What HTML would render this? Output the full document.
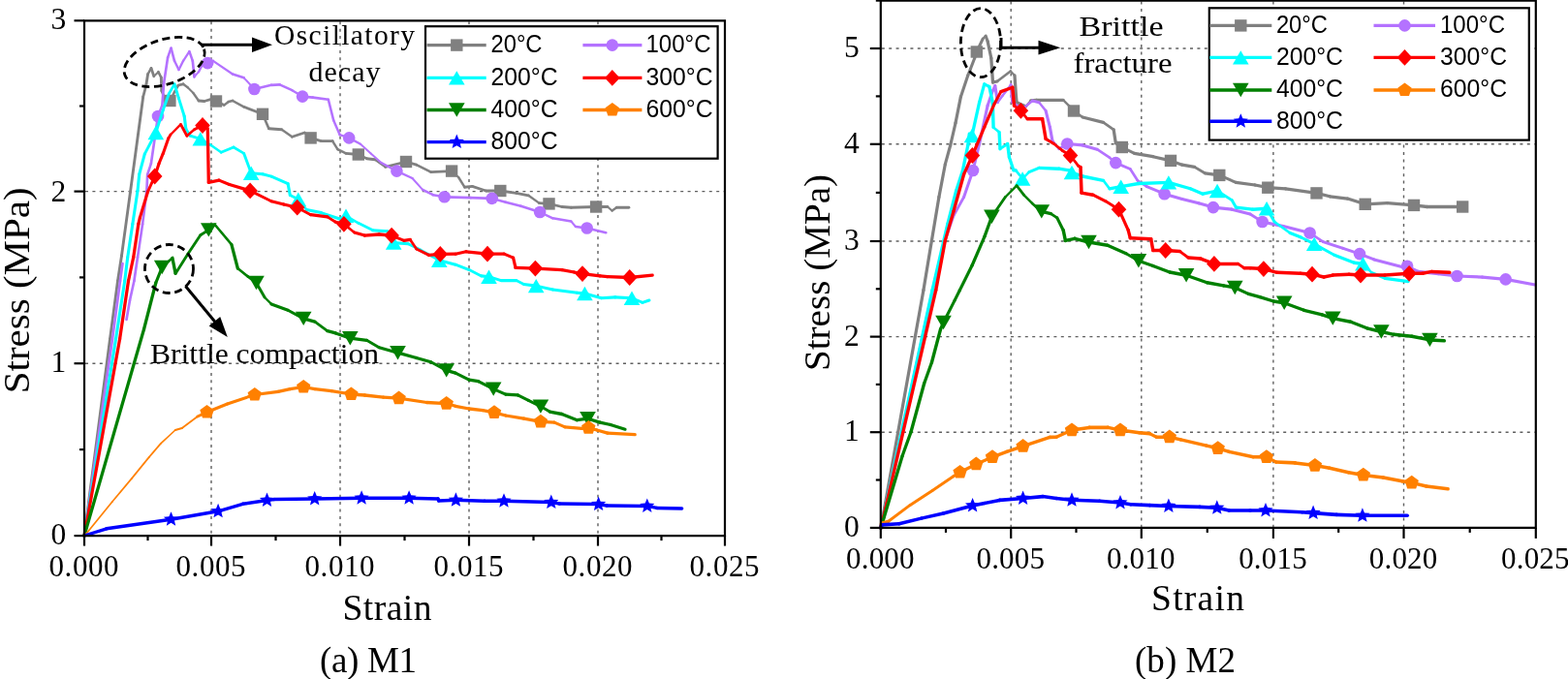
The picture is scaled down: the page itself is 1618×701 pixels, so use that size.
<!DOCTYPE html>
<html><head><meta charset="utf-8"><title>Stress-strain curves</title>
<style>html,body{margin:0;padding:0;background:#fff;overflow:hidden}svg{display:block}</style>
</head><body>
<svg width="1618" height="701" viewBox="0 0 1618 701">
<rect width="1618" height="701" fill="#fff"/>
<g stroke="#606060" stroke-width="1.4" stroke-dasharray="3 4.4" fill="none">
<line x1="218" y1="22.3" x2="218" y2="552.1"/>
<line x1="351" y1="22.3" x2="351" y2="552.1"/>
<line x1="484" y1="22.3" x2="484" y2="552.1"/>
<line x1="617" y1="22.3" x2="617" y2="552.1"/>
<line x1="88" y1="375.2" x2="747" y2="375.2"/>
<line x1="88" y1="197.6" x2="747" y2="197.6"/>
</g>
<g fill="none" stroke="#808080" stroke-linecap="round">
<line x1="87" y1="553" x2="113.5" y2="350" stroke-width="2.88"/>
<line x1="113.5" y1="350" x2="121.5" y2="290" stroke-width="2.87"/>
<line x1="121.5" y1="290" x2="125.5" y2="264" stroke-width="2.87"/>
<line x1="125.5" y1="264" x2="134.5" y2="198" stroke-width="2.87"/>
<line x1="134.5" y1="198" x2="147.7" y2="100" stroke-width="2.87"/>
<line x1="147.7" y1="100" x2="150.8" y2="88" stroke-width="2.81"/>
<line x1="150.8" y1="88" x2="152.6" y2="76.5" stroke-width="2.87"/>
<line x1="152.6" y1="76.5" x2="156" y2="70.3" stroke-width="2.54"/>
<line x1="156" y1="70.3" x2="158.8" y2="78.8" stroke-width="2.75"/>
<line x1="158.8" y1="78.8" x2="163.4" y2="74.2" stroke-width="2.05"/>
<line x1="163.4" y1="74.2" x2="166.3" y2="80" stroke-width="2.59"/>
<line x1="166.3" y1="80" x2="166.8" y2="93.7" stroke-width="2.9"/>
<line x1="166.8" y1="93.7" x2="171" y2="104" stroke-width="2.69"/>
<line x1="171" y1="104" x2="175.4" y2="104" stroke-width="2.9"/>
<line x1="175.4" y1="104" x2="180" y2="95" stroke-width="2.58"/>
<line x1="180" y1="95" x2="184" y2="88" stroke-width="2.52"/>
<line x1="184" y1="88" x2="189" y2="86.8" stroke-width="2.82"/>
<line x1="189" y1="86.8" x2="193.7" y2="90.2" stroke-width="2.35"/>
<line x1="193.7" y1="90.2" x2="199.4" y2="96" stroke-width="2.07"/>
<line x1="199.4" y1="96" x2="205" y2="104" stroke-width="2.38"/>
<line x1="205" y1="104" x2="210.8" y2="104.5" stroke-width="2.89"/>
<line x1="210.8" y1="104.5" x2="218.8" y2="102.2" stroke-width="2.79"/>
<line x1="218.8" y1="102.2" x2="223" y2="104.5" stroke-width="2.54"/>
<line x1="223" y1="104.5" x2="231.3" y2="108.5" stroke-width="2.61"/>
<line x1="231.3" y1="108.5" x2="235.9" y2="105" stroke-width="2.31"/>
<line x1="235.9" y1="105" x2="240" y2="104" stroke-width="2.82"/>
<line x1="240" y1="104" x2="251.7" y2="110.3" stroke-width="2.55"/>
<line x1="251.7" y1="110.3" x2="271" y2="117.8" stroke-width="2.7"/>
<line x1="271" y1="117.8" x2="277.4" y2="132.7" stroke-width="2.66"/>
<line x1="277.4" y1="132.7" x2="290.7" y2="133.8" stroke-width="2.89"/>
<line x1="290.7" y1="133.8" x2="301.4" y2="141.3" stroke-width="2.37"/>
<line x1="301.4" y1="141.3" x2="314.2" y2="137" stroke-width="2.75"/>
<line x1="314.2" y1="137" x2="320.6" y2="142.4" stroke-width="2.22"/>
<line x1="320.6" y1="142.4" x2="331.3" y2="145.6" stroke-width="2.78"/>
<line x1="331.3" y1="145.6" x2="343.1" y2="145.6" stroke-width="2.9"/>
<line x1="343.1" y1="145.6" x2="348.4" y2="154.1" stroke-width="2.46"/>
<line x1="348.4" y1="154.1" x2="357" y2="158.4" stroke-width="2.59"/>
<line x1="357" y1="158.4" x2="369.8" y2="159.5" stroke-width="2.89"/>
<line x1="369.8" y1="159.5" x2="378.4" y2="163.7" stroke-width="2.61"/>
<line x1="378.4" y1="163.7" x2="387" y2="164.8" stroke-width="2.88"/>
<line x1="387" y1="164.8" x2="397.6" y2="172.3" stroke-width="2.37"/>
<line x1="397.6" y1="172.3" x2="419" y2="167" stroke-width="2.81"/>
<line x1="419" y1="167" x2="429.7" y2="170.2" stroke-width="2.78"/>
<line x1="429.7" y1="170.2" x2="444.7" y2="177.6" stroke-width="2.6"/>
<line x1="444.7" y1="177.6" x2="466.1" y2="176.6" stroke-width="2.9"/>
<line x1="466.1" y1="176.6" x2="473.1" y2="183" stroke-width="2.14"/>
<line x1="473.1" y1="183" x2="479.4" y2="193.2" stroke-width="2.47"/>
<line x1="479.4" y1="193.2" x2="487.3" y2="192.4" stroke-width="2.89"/>
<line x1="487.3" y1="192.4" x2="501.4" y2="197" stroke-width="2.76"/>
<line x1="501.4" y1="197" x2="516.3" y2="197" stroke-width="2.9"/>
<line x1="516.3" y1="197" x2="532.8" y2="199.4" stroke-width="2.87"/>
<line x1="532.8" y1="199.4" x2="545.3" y2="201.8" stroke-width="2.85"/>
<line x1="545.3" y1="201.8" x2="556.3" y2="209.6" stroke-width="2.37"/>
<line x1="556.3" y1="209.6" x2="566.5" y2="210.4" stroke-width="2.89"/>
<line x1="566.5" y1="210.4" x2="579.8" y2="213.5" stroke-width="2.82"/>
<line x1="579.8" y1="213.5" x2="589.3" y2="214.3" stroke-width="2.89"/>
<line x1="589.3" y1="214.3" x2="615.1" y2="213.5" stroke-width="2.9"/>
<line x1="615.1" y1="213.5" x2="626.9" y2="213.5" stroke-width="2.9"/>
<line x1="626.9" y1="213.5" x2="631.6" y2="217.5" stroke-width="2.21"/>
<line x1="631.6" y1="217.5" x2="636.3" y2="214.3" stroke-width="2.4"/>
<line x1="636.3" y1="214.3" x2="648.9" y2="214.3" stroke-width="2.9"/>
</g>
<g fill="#808080">
<rect x="169.2" y="97.8" width="12.4" height="12.4"/>
<rect x="216.8" y="98.3" width="12.4" height="12.4"/>
<rect x="264.8" y="111.6" width="12.4" height="12.4"/>
<rect x="314.4" y="136.2" width="12.4" height="12.4"/>
<rect x="363.6" y="153.3" width="12.4" height="12.4"/>
<rect x="412.8" y="160.8" width="12.4" height="12.4"/>
<rect x="459.9" y="170.4" width="12.4" height="12.4"/>
<rect x="510.1" y="190.8" width="12.4" height="12.4"/>
<rect x="560.3" y="204.2" width="12.4" height="12.4"/>
<rect x="608.9" y="207.3" width="12.4" height="12.4"/>
</g>
<g fill="none" stroke="#B472FF" stroke-linecap="round">
<line x1="87" y1="553" x2="116" y2="350" stroke-width="2.67"/>
<line x1="116" y1="350" x2="124" y2="290" stroke-width="2.68"/>
<line x1="124" y1="290" x2="126.5" y2="272" stroke-width="2.67"/>
<line x1="130.5" y1="330" x2="134" y2="310" stroke-width="2.66"/>
<line x1="134" y1="310" x2="138.4" y2="290" stroke-width="2.64"/>
<line x1="138.4" y1="290" x2="142" y2="265.7" stroke-width="2.67"/>
<line x1="142" y1="265.7" x2="147.1" y2="231.4" stroke-width="2.67"/>
<line x1="147.1" y1="231.4" x2="151.4" y2="197" stroke-width="2.68"/>
<line x1="151.4" y1="197" x2="152.2" y2="180" stroke-width="2.7"/>
<line x1="152.2" y1="180" x2="155.9" y2="168.9" stroke-width="2.56"/>
<line x1="155.9" y1="168.9" x2="163" y2="120" stroke-width="2.67"/>
<line x1="163" y1="120" x2="167.4" y2="108.5" stroke-width="2.52"/>
<line x1="167.4" y1="108.5" x2="169.1" y2="85.7" stroke-width="2.69"/>
<line x1="169.1" y1="85.7" x2="173.1" y2="59.4" stroke-width="2.67"/>
<line x1="173.1" y1="59.4" x2="176.5" y2="49.7" stroke-width="2.55"/>
<line x1="176.5" y1="49.7" x2="180" y2="62.8" stroke-width="2.61"/>
<line x1="180" y1="62.8" x2="184.5" y2="72" stroke-width="2.43"/>
<line x1="184.5" y1="72" x2="189.1" y2="62.8" stroke-width="2.41"/>
<line x1="189.1" y1="62.8" x2="195.4" y2="53.1" stroke-width="2.26"/>
<line x1="195.4" y1="53.1" x2="198.8" y2="62.8" stroke-width="2.55"/>
<line x1="198.8" y1="62.8" x2="200.5" y2="79.4" stroke-width="2.69"/>
<line x1="200.5" y1="79.4" x2="205" y2="74.2" stroke-width="2.04"/>
<line x1="205" y1="74.2" x2="208.5" y2="67.4" stroke-width="2.4"/>
<line x1="208.5" y1="67.4" x2="214.2" y2="65.1" stroke-width="2.5"/>
<line x1="214.2" y1="65.1" x2="219.9" y2="62.8" stroke-width="2.5"/>
<line x1="219.9" y1="62.8" x2="240" y2="76.5" stroke-width="2.23"/>
<line x1="240" y1="76.5" x2="251.7" y2="80.3" stroke-width="2.57"/>
<line x1="251.7" y1="80.3" x2="262.4" y2="92" stroke-width="1.99"/>
<line x1="262.4" y1="92" x2="280" y2="87.8" stroke-width="2.63"/>
<line x1="280" y1="87.8" x2="288.6" y2="87.4" stroke-width="2.7"/>
<line x1="288.6" y1="87.4" x2="301.4" y2="93.2" stroke-width="2.46"/>
<line x1="301.4" y1="93.2" x2="312.1" y2="99.6" stroke-width="2.32"/>
<line x1="312.1" y1="99.6" x2="322.8" y2="100.6" stroke-width="2.69"/>
<line x1="322.8" y1="100.6" x2="338.8" y2="102.8" stroke-width="2.67"/>
<line x1="338.8" y1="102.8" x2="344.2" y2="124.2" stroke-width="2.62"/>
<line x1="344.2" y1="124.2" x2="350.6" y2="139.1" stroke-width="2.48"/>
<line x1="350.6" y1="139.1" x2="360.2" y2="142.4" stroke-width="2.55"/>
<line x1="360.2" y1="142.4" x2="372" y2="148.8" stroke-width="2.37"/>
<line x1="372" y1="148.8" x2="382.7" y2="158.4" stroke-width="2.01"/>
<line x1="382.7" y1="158.4" x2="393.4" y2="168" stroke-width="2.01"/>
<line x1="393.4" y1="168" x2="409.4" y2="176.6" stroke-width="2.38"/>
<line x1="409.4" y1="176.6" x2="425.5" y2="184" stroke-width="2.45"/>
<line x1="425.5" y1="184" x2="436.1" y2="195.8" stroke-width="2.01"/>
<line x1="436.1" y1="195.8" x2="446.8" y2="201.2" stroke-width="2.41"/>
<line x1="446.8" y1="201.2" x2="458.6" y2="203.3" stroke-width="2.66"/>
<line x1="458.6" y1="203.3" x2="485.7" y2="204.1" stroke-width="2.7"/>
<line x1="485.7" y1="204.1" x2="507.7" y2="204.9" stroke-width="2.7"/>
<line x1="507.7" y1="204.9" x2="521.8" y2="208.8" stroke-width="2.6"/>
<line x1="521.8" y1="208.8" x2="537.5" y2="212.8" stroke-width="2.62"/>
<line x1="537.5" y1="212.8" x2="557.1" y2="219" stroke-width="2.57"/>
<line x1="557.1" y1="219" x2="570.4" y2="225.3" stroke-width="2.44"/>
<line x1="570.4" y1="225.3" x2="589.3" y2="228.5" stroke-width="2.66"/>
<line x1="589.3" y1="228.5" x2="594" y2="234" stroke-width="2.05"/>
<line x1="594" y1="234" x2="605.7" y2="235.5" stroke-width="2.68"/>
<line x1="605.7" y1="235.5" x2="625.3" y2="240.2" stroke-width="2.63"/>
</g>
<g fill="#B472FF">
<circle cx="163" cy="120" r="6.3"/>
<circle cx="214.2" cy="65.1" r="6.3"/>
<circle cx="262.4" cy="92" r="6.3"/>
<circle cx="312.1" cy="99.6" r="6.3"/>
<circle cx="360.2" cy="142.4" r="6.3"/>
<circle cx="409.4" cy="176.6" r="6.3"/>
<circle cx="458.6" cy="203.3" r="6.3"/>
<circle cx="507.7" cy="204.9" r="6.3"/>
<circle cx="557.1" cy="219" r="6.3"/>
<circle cx="605.7" cy="235.5" r="6.3"/>
</g>
<g fill="none" stroke="#00FFFF" stroke-linecap="round">
<line x1="87" y1="553" x2="119.5" y2="350" stroke-width="3.06"/>
<line x1="119.5" y1="350" x2="128.7" y2="290" stroke-width="3.06"/>
<line x1="128.7" y1="290" x2="131.7" y2="265.7" stroke-width="3.08"/>
<line x1="131.7" y1="265.7" x2="136.8" y2="231.4" stroke-width="3.07"/>
<line x1="136.8" y1="231.4" x2="142" y2="197" stroke-width="3.07"/>
<line x1="142" y1="197" x2="143.7" y2="180" stroke-width="3.08"/>
<line x1="143.7" y1="180" x2="149.3" y2="159" stroke-width="3"/>
<line x1="149.3" y1="159" x2="160.8" y2="137" stroke-width="2.75"/>
<line x1="160.8" y1="137" x2="168.3" y2="113.5" stroke-width="2.95"/>
<line x1="168.3" y1="113.5" x2="174.2" y2="97" stroke-width="2.92"/>
<line x1="174.2" y1="97" x2="180" y2="86.8" stroke-width="2.69"/>
<line x1="180" y1="86.8" x2="184.5" y2="101.6" stroke-width="2.97"/>
<line x1="184.5" y1="101.6" x2="190.2" y2="120" stroke-width="2.96"/>
<line x1="190.2" y1="120" x2="191.8" y2="132.7" stroke-width="3.08"/>
<line x1="191.8" y1="132.7" x2="196.1" y2="140.2" stroke-width="2.69"/>
<line x1="196.1" y1="140.2" x2="206.8" y2="143.4" stroke-width="2.97"/>
<line x1="206.8" y1="143.4" x2="217.5" y2="149.8" stroke-width="2.66"/>
<line x1="217.5" y1="149.8" x2="228.2" y2="157.3" stroke-width="2.54"/>
<line x1="228.2" y1="157.3" x2="241" y2="152" stroke-width="2.86"/>
<line x1="241" y1="152" x2="251.7" y2="158.4" stroke-width="2.66"/>
<line x1="251.7" y1="158.4" x2="259.2" y2="178.7" stroke-width="2.91"/>
<line x1="259.2" y1="178.7" x2="271" y2="179.8" stroke-width="3.09"/>
<line x1="271" y1="179.8" x2="280" y2="182.1" stroke-width="3"/>
<line x1="280" y1="182.1" x2="297.1" y2="189.6" stroke-width="2.84"/>
<line x1="297.1" y1="189.6" x2="299.3" y2="201.4" stroke-width="3.05"/>
<line x1="299.3" y1="201.4" x2="307.8" y2="205.7" stroke-width="2.77"/>
<line x1="307.8" y1="205.7" x2="316.4" y2="216.4" stroke-width="2.42"/>
<line x1="316.4" y1="216.4" x2="331.3" y2="219.6" stroke-width="3.03"/>
<line x1="331.3" y1="219.6" x2="350.6" y2="226" stroke-width="2.94"/>
<line x1="350.6" y1="226" x2="357" y2="222.8" stroke-width="2.77"/>
<line x1="357" y1="222.8" x2="369.8" y2="230.3" stroke-width="2.67"/>
<line x1="369.8" y1="230.3" x2="384.8" y2="237.8" stroke-width="2.77"/>
<line x1="384.8" y1="237.8" x2="399.8" y2="238.8" stroke-width="3.09"/>
<line x1="399.8" y1="238.8" x2="406.2" y2="250.6" stroke-width="2.72"/>
<line x1="406.2" y1="250.6" x2="421.2" y2="251.7" stroke-width="3.09"/>
<line x1="421.2" y1="251.7" x2="434" y2="258.1" stroke-width="2.77"/>
<line x1="434" y1="258.1" x2="453.3" y2="268.8" stroke-width="2.71"/>
<line x1="453.3" y1="268.8" x2="470" y2="273.2" stroke-width="3"/>
<line x1="470" y1="273.2" x2="484.1" y2="278.6" stroke-width="2.89"/>
<line x1="484.1" y1="278.6" x2="496.7" y2="284.9" stroke-width="2.77"/>
<line x1="496.7" y1="284.9" x2="504.5" y2="285.7" stroke-width="3.08"/>
<line x1="504.5" y1="285.7" x2="517.1" y2="289.6" stroke-width="2.96"/>
<line x1="517.1" y1="289.6" x2="532.8" y2="289.6" stroke-width="3.1"/>
<line x1="532.8" y1="289.6" x2="540.6" y2="293.5" stroke-width="2.77"/>
<line x1="540.6" y1="293.5" x2="553.2" y2="295.1" stroke-width="3.08"/>
<line x1="553.2" y1="295.1" x2="570.4" y2="299" stroke-width="3.02"/>
<line x1="570.4" y1="299" x2="595.5" y2="302.2" stroke-width="3.08"/>
<line x1="595.5" y1="302.2" x2="603.4" y2="303" stroke-width="3.08"/>
<line x1="603.4" y1="303" x2="620.6" y2="307.7" stroke-width="2.99"/>
<line x1="620.6" y1="307.7" x2="634.8" y2="306.9" stroke-width="3.1"/>
<line x1="634.8" y1="306.9" x2="652" y2="307.7" stroke-width="3.1"/>
<line x1="652" y1="307.7" x2="663" y2="312.4" stroke-width="2.85"/>
<line x1="663" y1="312.4" x2="670" y2="310" stroke-width="2.93"/>
</g>
<g fill="#00FFFF">
<polygon points="160.8,129.8 169.1,144.2 152.5,144.2"/>
<polygon points="206.8,136.2 215.1,150.6 198.5,150.6"/>
<polygon points="259.2,171.5 267.5,185.9 250.9,185.9"/>
<polygon points="307.8,198.5 316.1,212.9 299.5,212.9"/>
<polygon points="357,215.6 365.3,230 348.7,230"/>
<polygon points="406.2,243.4 414.5,257.8 397.9,257.8"/>
<polygon points="453.3,261.6 461.6,276 445,276"/>
<polygon points="504.5,278.5 512.8,292.9 496.2,292.9"/>
<polygon points="553.2,287.9 561.5,302.3 544.9,302.3"/>
<polygon points="603.4,295.8 611.7,310.2 595.1,310.2"/>
<polygon points="652,300.5 660.3,314.9 643.7,314.9"/>
</g>
<g fill="none" stroke="#FF0000" stroke-linecap="round">
<line x1="87" y1="553" x2="123.6" y2="350" stroke-width="3.25"/>
<line x1="123.6" y1="350" x2="132.5" y2="290" stroke-width="3.26"/>
<line x1="132.5" y1="290" x2="137.7" y2="265.7" stroke-width="3.23"/>
<line x1="137.7" y1="265.7" x2="142.8" y2="231.4" stroke-width="3.26"/>
<line x1="142.8" y1="231.4" x2="144.4" y2="224.6" stroke-width="3.21"/>
<line x1="144.4" y1="224.6" x2="152.5" y2="198" stroke-width="3.16"/>
<line x1="152.5" y1="198" x2="159.7" y2="182" stroke-width="3.01"/>
<line x1="159.7" y1="182" x2="164" y2="168.9" stroke-width="3.14"/>
<line x1="164" y1="168.9" x2="168.3" y2="158.4" stroke-width="3.05"/>
<line x1="168.3" y1="158.4" x2="173.9" y2="142.6" stroke-width="3.11"/>
<line x1="173.9" y1="142.6" x2="176" y2="139" stroke-width="2.85"/>
<line x1="176" y1="139" x2="186.5" y2="128.4" stroke-width="2.34"/>
<line x1="186.5" y1="128.4" x2="192.9" y2="140.2" stroke-width="2.9"/>
<line x1="192.9" y1="140.2" x2="200.4" y2="133.8" stroke-width="2.51"/>
<line x1="200.4" y1="133.8" x2="209" y2="129.5" stroke-width="2.95"/>
<line x1="209" y1="129.5" x2="214.3" y2="132.7" stroke-width="2.83"/>
<line x1="214.3" y1="132.7" x2="215.3" y2="188.3" stroke-width="3.3"/>
<line x1="215.3" y1="188.3" x2="226" y2="186.2" stroke-width="3.24"/>
<line x1="226" y1="186.2" x2="236.7" y2="190.5" stroke-width="3.06"/>
<line x1="236.7" y1="190.5" x2="258.1" y2="196.9" stroke-width="3.16"/>
<line x1="258.1" y1="196.9" x2="280" y2="207.8" stroke-width="2.95"/>
<line x1="280" y1="207.8" x2="292.8" y2="211" stroke-width="3.2"/>
<line x1="292.8" y1="211" x2="306.7" y2="214.2" stroke-width="3.22"/>
<line x1="306.7" y1="214.2" x2="320.6" y2="221.7" stroke-width="2.9"/>
<line x1="320.6" y1="221.7" x2="337.8" y2="223.9" stroke-width="3.27"/>
<line x1="337.8" y1="223.9" x2="346.3" y2="229.2" stroke-width="2.8"/>
<line x1="346.3" y1="229.2" x2="354.9" y2="231.3" stroke-width="3.21"/>
<line x1="354.9" y1="231.3" x2="365.6" y2="239.9" stroke-width="2.57"/>
<line x1="365.6" y1="239.9" x2="376.3" y2="243.1" stroke-width="3.16"/>
<line x1="376.3" y1="243.1" x2="391.2" y2="242" stroke-width="3.29"/>
<line x1="391.2" y1="242" x2="404.1" y2="243.1" stroke-width="3.29"/>
<line x1="404.1" y1="243.1" x2="416.9" y2="248.4" stroke-width="3.05"/>
<line x1="416.9" y1="248.4" x2="423.3" y2="247.4" stroke-width="3.26"/>
<line x1="423.3" y1="247.4" x2="429.7" y2="257" stroke-width="2.75"/>
<line x1="429.7" y1="257" x2="442.6" y2="263.4" stroke-width="2.96"/>
<line x1="442.6" y1="263.4" x2="454.3" y2="262.4" stroke-width="3.29"/>
<line x1="454.3" y1="262.4" x2="470" y2="262.2" stroke-width="3.3"/>
<line x1="470" y1="262.2" x2="481" y2="259.8" stroke-width="3.22"/>
<line x1="481" y1="259.8" x2="503" y2="262.2" stroke-width="3.28"/>
<line x1="503" y1="262.2" x2="520.2" y2="262.2" stroke-width="3.3"/>
<line x1="520.2" y1="262.2" x2="529.6" y2="266.1" stroke-width="3.05"/>
<line x1="529.6" y1="266.1" x2="532" y2="276.3" stroke-width="3.21"/>
<line x1="532" y1="276.3" x2="552.4" y2="277.1" stroke-width="3.3"/>
<line x1="552.4" y1="277.1" x2="579.8" y2="278.6" stroke-width="3.3"/>
<line x1="579.8" y1="278.6" x2="592.4" y2="281" stroke-width="3.24"/>
<line x1="592.4" y1="281" x2="601" y2="282.6" stroke-width="3.24"/>
<line x1="601" y1="282.6" x2="619.1" y2="284.9" stroke-width="3.27"/>
<line x1="619.1" y1="284.9" x2="626.9" y2="285.7" stroke-width="3.28"/>
<line x1="626.9" y1="285.7" x2="649.7" y2="286.5" stroke-width="3.3"/>
<line x1="649.7" y1="286.5" x2="673.2" y2="284.1" stroke-width="3.28"/>
</g>
<g fill="#FF0000">
<polygon points="159.7,173.6 167.5,182 159.7,190.4 151.9,182"/>
<polygon points="209,121.1 216.8,129.5 209,137.9 201.2,129.5"/>
<polygon points="258.1,188.5 265.9,196.9 258.1,205.3 250.3,196.9"/>
<polygon points="306.7,205.8 314.5,214.2 306.7,222.6 298.9,214.2"/>
<polygon points="354.9,222.9 362.7,231.3 354.9,239.7 347.1,231.3"/>
<polygon points="404.1,234.7 411.9,243.1 404.1,251.5 396.3,243.1"/>
<polygon points="454.3,254 462.1,262.4 454.3,270.8 446.5,262.4"/>
<polygon points="503,253.8 510.8,262.2 503,270.6 495.2,262.2"/>
<polygon points="552.4,268.7 560.2,277.1 552.4,285.5 544.6,277.1"/>
<polygon points="601,274.2 608.8,282.6 601,291 593.2,282.6"/>
<polygon points="649.7,278.1 657.5,286.5 649.7,294.9 641.9,286.5"/>
</g>
<g fill="none" stroke="#008000" stroke-linecap="round">
<line x1="87" y1="553" x2="148.5" y2="340" stroke-width="3.27"/>
<line x1="148.5" y1="340" x2="160.8" y2="292" stroke-width="3.29"/>
<line x1="160.8" y1="292" x2="167.2" y2="276" stroke-width="3.16"/>
<line x1="167.2" y1="276" x2="177.9" y2="266.3" stroke-width="2.52"/>
<line x1="177.9" y1="266.3" x2="181.1" y2="282.4" stroke-width="3.33"/>
<line x1="181.1" y1="282.4" x2="194" y2="262" stroke-width="2.87"/>
<line x1="194" y1="262" x2="206.8" y2="242.8" stroke-width="2.83"/>
<line x1="206.8" y1="242.8" x2="215.3" y2="237.4" stroke-width="2.87"/>
<line x1="215.3" y1="237.4" x2="221.8" y2="232" stroke-width="2.62"/>
<line x1="221.8" y1="232" x2="238.9" y2="252.4" stroke-width="2.61"/>
<line x1="238.9" y1="252.4" x2="245.3" y2="277" stroke-width="3.29"/>
<line x1="245.3" y1="277" x2="256" y2="285.6" stroke-width="2.65"/>
<line x1="256" y1="285.6" x2="264.5" y2="292" stroke-width="2.72"/>
<line x1="264.5" y1="292" x2="273.1" y2="307" stroke-width="2.95"/>
<line x1="273.1" y1="307" x2="280" y2="313.9" stroke-width="2.4"/>
<line x1="280" y1="313.9" x2="297.1" y2="320.3" stroke-width="3.18"/>
<line x1="297.1" y1="320.3" x2="313.2" y2="328.9" stroke-width="3"/>
<line x1="313.2" y1="328.9" x2="324.9" y2="332.1" stroke-width="3.28"/>
<line x1="324.9" y1="332.1" x2="337.8" y2="341.7" stroke-width="2.73"/>
<line x1="337.8" y1="341.7" x2="346.3" y2="343.9" stroke-width="3.29"/>
<line x1="346.3" y1="343.9" x2="361.3" y2="349.2" stroke-width="3.21"/>
<line x1="361.3" y1="349.2" x2="378.4" y2="351.3" stroke-width="3.37"/>
<line x1="378.4" y1="351.3" x2="391.2" y2="358.8" stroke-width="2.93"/>
<line x1="391.2" y1="358.8" x2="410.5" y2="364.2" stroke-width="3.27"/>
<line x1="410.5" y1="364.2" x2="429.7" y2="369.5" stroke-width="3.28"/>
<line x1="429.7" y1="369.5" x2="444.7" y2="373.8" stroke-width="3.27"/>
<line x1="444.7" y1="373.8" x2="460.7" y2="382.4" stroke-width="2.99"/>
<line x1="460.7" y1="382.4" x2="470" y2="385.1" stroke-width="3.27"/>
<line x1="470" y1="385.1" x2="484.1" y2="392.2" stroke-width="3.04"/>
<line x1="484.1" y1="392.2" x2="493.5" y2="393.7" stroke-width="3.36"/>
<line x1="493.5" y1="393.7" x2="509.2" y2="401.6" stroke-width="3.04"/>
<line x1="509.2" y1="401.6" x2="521.8" y2="407.1" stroke-width="3.12"/>
<line x1="521.8" y1="407.1" x2="534.3" y2="407.9" stroke-width="3.39"/>
<line x1="534.3" y1="407.9" x2="545.3" y2="413.4" stroke-width="3.04"/>
<line x1="545.3" y1="413.4" x2="557.9" y2="419.6" stroke-width="3.05"/>
<line x1="557.9" y1="419.6" x2="567.3" y2="425.1" stroke-width="2.93"/>
<line x1="567.3" y1="425.1" x2="579.8" y2="427.5" stroke-width="3.34"/>
<line x1="579.8" y1="427.5" x2="595.5" y2="433.7" stroke-width="3.16"/>
<line x1="595.5" y1="433.7" x2="606.5" y2="432.2" stroke-width="3.37"/>
<line x1="606.5" y1="432.2" x2="619.1" y2="436.1" stroke-width="3.25"/>
<line x1="619.1" y1="436.1" x2="630" y2="438.5" stroke-width="3.32"/>
<line x1="630" y1="438.5" x2="645" y2="443.2" stroke-width="3.24"/>
</g>
<g fill="#008000">
<polygon points="167.2,283.2 175.5,268.8 158.9,268.8"/>
<polygon points="215.3,244.6 223.6,230.2 207,230.2"/>
<polygon points="264.5,299.2 272.8,284.8 256.2,284.8"/>
<polygon points="313.2,336.1 321.5,321.7 304.9,321.7"/>
<polygon points="361.3,356.4 369.6,342 353,342"/>
<polygon points="410.5,371.4 418.8,357 402.2,357"/>
<polygon points="460.7,389.6 469,375.2 452.4,375.2"/>
<polygon points="509.2,408.8 517.5,394.4 500.9,394.4"/>
<polygon points="557.9,426.8 566.2,412.4 549.6,412.4"/>
<polygon points="606.5,439.4 614.8,425 598.2,425"/>
</g>
<g fill="none" stroke="#FF8000" stroke-linecap="round">
<line x1="87" y1="553" x2="90" y2="549.8" stroke-width="1.6"/>
<line x1="90" y1="549.8" x2="116" y2="517.8" stroke-width="1.71"/>
<line x1="116" y1="517.8" x2="136" y2="493.9" stroke-width="1.69"/>
<line x1="136" y1="493.9" x2="153.9" y2="471.9" stroke-width="1.71"/>
<line x1="153.9" y1="471.9" x2="165.9" y2="457.9" stroke-width="1.67"/>
<line x1="165.9" y1="457.9" x2="180.9" y2="444" stroke-width="1.61"/>
<line x1="180.9" y1="444" x2="187.8" y2="442" stroke-width="2.11"/>
<line x1="187.8" y1="442" x2="203.8" y2="430" stroke-width="1.76"/>
<line x1="203.8" y1="430" x2="213.5" y2="425.5" stroke-width="2.99"/>
<line x1="213.5" y1="425.5" x2="234.6" y2="417" stroke-width="3.06"/>
<line x1="234.6" y1="417" x2="262.8" y2="407.5" stroke-width="3.13"/>
<line x1="262.8" y1="407.5" x2="287" y2="404.4" stroke-width="3.27"/>
<line x1="287" y1="404.4" x2="299.3" y2="401.6" stroke-width="3.22"/>
<line x1="299.3" y1="401.6" x2="313.2" y2="399.5" stroke-width="3.26"/>
<line x1="313.2" y1="399.5" x2="324.9" y2="401.6" stroke-width="3.25"/>
<line x1="324.9" y1="401.6" x2="342" y2="403.7" stroke-width="3.28"/>
<line x1="342" y1="403.7" x2="362.4" y2="407" stroke-width="3.26"/>
<line x1="362.4" y1="407" x2="376.3" y2="408" stroke-width="3.29"/>
<line x1="376.3" y1="408" x2="395.5" y2="410.2" stroke-width="3.28"/>
<line x1="395.5" y1="410.2" x2="411.6" y2="411.2" stroke-width="3.29"/>
<line x1="411.6" y1="411.2" x2="440.4" y2="415.5" stroke-width="3.26"/>
<line x1="440.4" y1="415.5" x2="460.7" y2="416.6" stroke-width="3.3"/>
<line x1="460.7" y1="416.6" x2="470" y2="419.3" stroke-width="3.17"/>
<line x1="470" y1="419.3" x2="484.1" y2="422" stroke-width="3.24"/>
<line x1="484.1" y1="422" x2="498.2" y2="423.6" stroke-width="3.28"/>
<line x1="498.2" y1="423.6" x2="510" y2="425.9" stroke-width="3.24"/>
<line x1="510" y1="425.9" x2="521.8" y2="429" stroke-width="3.19"/>
<line x1="521.8" y1="429" x2="540.6" y2="432.2" stroke-width="3.25"/>
<line x1="540.6" y1="432.2" x2="557.9" y2="435.3" stroke-width="3.25"/>
<line x1="557.9" y1="435.3" x2="572" y2="436.1" stroke-width="3.29"/>
<line x1="572" y1="436.1" x2="583" y2="440.8" stroke-width="3.03"/>
<line x1="583" y1="440.8" x2="600.2" y2="442.4" stroke-width="3.29"/>
<line x1="600.2" y1="442.4" x2="607.3" y2="441.6" stroke-width="3.28"/>
<line x1="607.3" y1="441.6" x2="615.9" y2="444" stroke-width="3.18"/>
<line x1="615.9" y1="444" x2="626.9" y2="447.1" stroke-width="3.18"/>
<line x1="626.9" y1="447.1" x2="655.2" y2="448.7" stroke-width="3.29"/>
</g>
<g fill="#FF8000">
<polygon points="213.5,417.9 220.7,423.2 218,431.6 209,431.6 206.3,423.2"/>
<polygon points="262.8,399.9 270,405.2 267.3,413.6 258.3,413.6 255.6,405.2"/>
<polygon points="313.2,391.9 320.4,397.2 317.7,405.6 308.7,405.6 306,397.2"/>
<polygon points="362.4,399.4 369.6,404.7 366.9,413.1 357.9,413.1 355.2,404.7"/>
<polygon points="411.6,403.6 418.8,408.9 416.1,417.3 407.1,417.3 404.4,408.9"/>
<polygon points="460.7,409 467.9,414.3 465.2,422.7 456.2,422.7 453.5,414.3"/>
<polygon points="510,418.3 517.2,423.6 514.5,432 505.5,432 502.8,423.6"/>
<polygon points="557.9,427.7 565.1,433 562.4,441.4 553.4,441.4 550.7,433"/>
<polygon points="607.3,434 614.5,439.3 611.8,447.7 602.8,447.7 600.1,439.3"/>
</g>
<g fill="none" stroke="#0000FF" stroke-linecap="round">
<line x1="87" y1="553" x2="110" y2="545.8" stroke-width="3.34"/>
<line x1="110" y1="545.8" x2="176.5" y2="536.2" stroke-width="3.46"/>
<line x1="176.5" y1="536.2" x2="225.1" y2="527.8" stroke-width="3.45"/>
<line x1="225.1" y1="527.8" x2="250.5" y2="520.3" stroke-width="3.36"/>
<line x1="250.5" y1="520.3" x2="275.5" y2="516.5" stroke-width="3.46"/>
<line x1="275.5" y1="516.5" x2="282.8" y2="515.6" stroke-width="3.47"/>
<line x1="282.8" y1="515.6" x2="324.7" y2="514.9" stroke-width="3.5"/>
<line x1="324.7" y1="514.9" x2="373.1" y2="514.2" stroke-width="3.5"/>
<line x1="373.1" y1="514.2" x2="422.1" y2="514.2" stroke-width="3.5"/>
<line x1="422.1" y1="514.2" x2="452" y2="514.9" stroke-width="3.5"/>
<line x1="452" y1="514.9" x2="452.7" y2="517" stroke-width="3.32"/>
<line x1="452.7" y1="517" x2="470.4" y2="516.3" stroke-width="3.5"/>
<line x1="470.4" y1="516.3" x2="500" y2="517.2" stroke-width="3.5"/>
<line x1="500" y1="517.2" x2="520" y2="517.2" stroke-width="3.5"/>
<line x1="520" y1="517.2" x2="568.8" y2="518.6" stroke-width="3.5"/>
<line x1="568.8" y1="518.6" x2="577.4" y2="520" stroke-width="3.45"/>
<line x1="577.4" y1="520" x2="617.6" y2="520.6" stroke-width="3.5"/>
<line x1="617.6" y1="520.6" x2="626.2" y2="522" stroke-width="3.45"/>
<line x1="626.2" y1="522" x2="667.8" y2="522.4" stroke-width="3.5"/>
<line x1="667.8" y1="522.4" x2="677.8" y2="524.4" stroke-width="3.43"/>
<line x1="677.8" y1="524.4" x2="703.6" y2="525" stroke-width="3.5"/>
</g>
<g fill="#0000FF">
<polygon points="176.5,528.2 178.6,533.3 184.1,533.7 179.9,537.3 181.2,542.7 176.5,539.8 171.8,542.7 173.1,537.3 168.9,533.7 174.4,533.3"/>
<polygon points="225.1,519.8 227.2,524.9 232.7,525.3 228.5,528.9 229.8,534.3 225.1,531.4 220.4,534.3 221.7,528.9 217.5,525.3 223,524.9"/>
<polygon points="275.5,508.5 277.6,513.6 283.1,514 278.9,517.6 280.2,523 275.5,520.1 270.8,523 272.1,517.6 267.9,514 273.4,513.6"/>
<polygon points="324.7,506.9 326.8,512 332.3,512.4 328.1,516 329.4,521.4 324.7,518.5 320,521.4 321.3,516 317.1,512.4 322.6,512"/>
<polygon points="373.1,506.2 375.2,511.3 380.7,511.7 376.5,515.3 377.8,520.7 373.1,517.8 368.4,520.7 369.7,515.3 365.5,511.7 371,511.3"/>
<polygon points="422.1,506.2 424.2,511.3 429.7,511.7 425.5,515.3 426.8,520.7 422.1,517.8 417.4,520.7 418.7,515.3 414.5,511.7 420,511.3"/>
<polygon points="470.4,508.3 472.5,513.4 478,513.8 473.8,517.4 475.1,522.8 470.4,519.9 465.7,522.8 467,517.4 462.8,513.8 468.3,513.4"/>
<polygon points="520,509.2 522.1,514.3 527.6,514.7 523.4,518.3 524.7,523.7 520,520.8 515.3,523.7 516.6,518.3 512.4,514.7 517.9,514.3"/>
<polygon points="568.8,510.6 570.9,515.7 576.4,516.1 572.2,519.7 573.5,525.1 568.8,522.2 564.1,525.1 565.4,519.7 561.2,516.1 566.7,515.7"/>
<polygon points="617.6,512.6 619.7,517.7 625.2,518.1 621,521.7 622.3,527.1 617.6,524.2 612.9,527.1 614.2,521.7 610,518.1 615.5,517.7"/>
<polygon points="667.8,514.4 669.9,519.5 675.4,519.9 671.2,523.5 672.5,528.9 667.8,526 663.1,528.9 664.4,523.5 660.2,519.9 665.7,519.5"/>
</g>
<g fill="none" stroke="#000" stroke-width="2.8" stroke-dasharray="8 4.6">
<ellipse cx="169.7" cy="64" rx="43" ry="23" transform="rotate(-18 169.7 64)"/>
<circle cx="174.5" cy="277.5" r="25"/>
</g>
<line x1="208" y1="46.2" x2="262" y2="46.2" stroke="#000" stroke-width="3"/>
<polygon points="281,46.2 260,38.5 260,53.9" fill="#000"/>
<line x1="191.5" y1="295.5" x2="222.7" y2="333.3" stroke="#000" stroke-width="3"/>
<polygon points="234.8,348 227.2,327 215.7,336.6" fill="#000"/>
<g stroke="#000" stroke-width="2.2" fill="none" stroke-linecap="butt">
<path d="M87 553.1 H748 V21.3 H87 Z"/>
<line x1="87" y1="553.1" x2="87" y2="563.6"/>
<line x1="152.5" y1="553.1" x2="152.5" y2="558.1"/>
<line x1="218" y1="553.1" x2="218" y2="563.6"/>
<line x1="284.5" y1="553.1" x2="284.5" y2="558.1"/>
<line x1="351" y1="553.1" x2="351" y2="563.6"/>
<line x1="417.5" y1="553.1" x2="417.5" y2="558.1"/>
<line x1="484" y1="553.1" x2="484" y2="563.6"/>
<line x1="550.5" y1="553.1" x2="550.5" y2="558.1"/>
<line x1="617" y1="553.1" x2="617" y2="563.6"/>
<line x1="682.5" y1="553.1" x2="682.5" y2="558.1"/>
<line x1="748" y1="553.1" x2="748" y2="563.6"/>
<line x1="87" y1="553.1" x2="76.5" y2="553.1"/>
<line x1="87" y1="464.1" x2="82" y2="464.1"/>
<line x1="87" y1="375.2" x2="76.5" y2="375.2"/>
<line x1="87" y1="286.4" x2="82" y2="286.4"/>
<line x1="87" y1="197.6" x2="76.5" y2="197.6"/>
<line x1="87" y1="109.5" x2="82" y2="109.5"/>
<line x1="87" y1="21.3" x2="76.5" y2="21.3"/>
</g>
<rect x="439" y="27.2" width="301.6" height="136.5" fill="#fff" stroke="#000" stroke-width="2.2"/>
<line x1="440.5" y1="46.6" x2="501.7" y2="46.6" stroke="#808080" stroke-width="3.4"/>
<g fill="#808080"><rect x="465.1" y="40.4" width="12.4" height="12.4"/></g>
<text x="506.5" y="53.9" font-family='"Liberation Sans", Arial, sans-serif' font-size="25" text-anchor="start" textLength="53" lengthAdjust="spacingAndGlyphs">20°C</text>
<line x1="601.4" y1="46.6" x2="662.4" y2="46.6" stroke="#B472FF" stroke-width="3.4"/>
<g fill="#B472FF"><circle cx="631.8" cy="46.6" r="6.3"/></g>
<text x="666.5" y="53.9" font-family='"Liberation Sans", Arial, sans-serif' font-size="25" text-anchor="start" textLength="67" lengthAdjust="spacingAndGlyphs">100°C</text>
<line x1="440.5" y1="80.4" x2="501.7" y2="80.4" stroke="#00FFFF" stroke-width="3.4"/>
<g fill="#00FFFF"><polygon points="471.3,73.2 479.6,87.6 463,87.6"/></g>
<text x="506.5" y="87.7" font-family='"Liberation Sans", Arial, sans-serif' font-size="25" text-anchor="start" textLength="69" lengthAdjust="spacingAndGlyphs">200°C</text>
<line x1="601.4" y1="80.4" x2="662.4" y2="80.4" stroke="#FF0000" stroke-width="3.4"/>
<g fill="#FF0000"><polygon points="631.8,72 639.6,80.4 631.8,88.8 624,80.4"/></g>
<text x="666.5" y="87.7" font-family='"Liberation Sans", Arial, sans-serif' font-size="25" text-anchor="start" textLength="69" lengthAdjust="spacingAndGlyphs">300°C</text>
<line x1="440.5" y1="113.5" x2="501.7" y2="113.5" stroke="#008000" stroke-width="3.4"/>
<g fill="#008000"><polygon points="471.3,120.7 479.6,106.3 463,106.3"/></g>
<text x="506.5" y="120.8" font-family='"Liberation Sans", Arial, sans-serif' font-size="25" text-anchor="start" textLength="69" lengthAdjust="spacingAndGlyphs">400°C</text>
<line x1="601.4" y1="113.5" x2="662.4" y2="113.5" stroke="#FF8000" stroke-width="3.4"/>
<g fill="#FF8000"><polygon points="631.8,105.9 639,111.2 636.3,119.6 627.3,119.6 624.6,111.2"/></g>
<text x="666.5" y="120.8" font-family='"Liberation Sans", Arial, sans-serif' font-size="25" text-anchor="start" textLength="69" lengthAdjust="spacingAndGlyphs">600°C</text>
<line x1="440.5" y1="146.6" x2="501.7" y2="146.6" stroke="#0000FF" stroke-width="3.4"/>
<g fill="#0000FF"><polygon points="471.3,138.6 473.4,143.7 478.9,144.1 474.7,147.7 476,153.1 471.3,150.2 466.6,153.1 467.9,147.7 463.7,144.1 469.2,143.7"/></g>
<text x="506.5" y="153.9" font-family='"Liberation Sans", Arial, sans-serif' font-size="25" text-anchor="start" textLength="69" lengthAdjust="spacingAndGlyphs">800°C</text>
<g stroke="#606060" stroke-width="1.4" stroke-dasharray="3 4.4" fill="none">
<line x1="1043.2" y1="1.6" x2="1043.2" y2="543.9"/>
<line x1="1177.8" y1="1.6" x2="1177.8" y2="543.9"/>
<line x1="1313.9" y1="1.6" x2="1313.9" y2="543.9"/>
<line x1="1448.5" y1="1.6" x2="1448.5" y2="543.9"/>
<line x1="909.8" y1="446.2" x2="1583.8" y2="446.2"/>
<line x1="909.8" y1="347.6" x2="1583.8" y2="347.6"/>
<line x1="909.8" y1="249" x2="1583.8" y2="249"/>
<line x1="909.8" y1="148.8" x2="1583.8" y2="148.8"/>
<line x1="909.8" y1="50" x2="1583.8" y2="50"/>
</g>
<g fill="none" stroke="#808080" stroke-linecap="round">
<line x1="909" y1="545" x2="952.9" y2="299.7" stroke-width="3.25"/>
<line x1="952.9" y1="299.7" x2="961.4" y2="248.4" stroke-width="3.26"/>
<line x1="961.4" y1="248.4" x2="968.9" y2="203.5" stroke-width="3.25"/>
<line x1="968.9" y1="203.5" x2="975.3" y2="169.7" stroke-width="3.24"/>
<line x1="975.3" y1="169.7" x2="980.7" y2="150" stroke-width="3.18"/>
<line x1="980.7" y1="150" x2="986" y2="127" stroke-width="3.22"/>
<line x1="986" y1="127" x2="991.4" y2="99.9" stroke-width="3.24"/>
<line x1="991.4" y1="99.9" x2="998.8" y2="77.8" stroke-width="3.13"/>
<line x1="998.8" y1="77.8" x2="1001.4" y2="71.3" stroke-width="3.06"/>
<line x1="1001.4" y1="71.3" x2="1005.7" y2="60" stroke-width="3.08"/>
<line x1="1005.7" y1="60" x2="1007.8" y2="53.5" stroke-width="3.14"/>
<line x1="1007.8" y1="53.5" x2="1014.2" y2="40" stroke-width="2.98"/>
<line x1="1014.2" y1="40" x2="1017.1" y2="37.1" stroke-width="2.33"/>
<line x1="1017.1" y1="37.1" x2="1019.2" y2="42.8" stroke-width="3.1"/>
<line x1="1019.2" y1="42.8" x2="1022.8" y2="60" stroke-width="3.23"/>
<line x1="1022.8" y1="60" x2="1024.5" y2="85" stroke-width="3.29"/>
<line x1="1024.5" y1="85" x2="1029" y2="84" stroke-width="3.22"/>
<line x1="1029" y1="84" x2="1042.8" y2="73.5" stroke-width="2.63"/>
<line x1="1042.8" y1="73.5" x2="1047" y2="78" stroke-width="2.41"/>
<line x1="1047" y1="78" x2="1048.5" y2="100" stroke-width="3.29"/>
<line x1="1048.5" y1="100" x2="1049.1" y2="105.7" stroke-width="3.28"/>
<line x1="1049.1" y1="105.7" x2="1058.7" y2="109.8" stroke-width="3.03"/>
<line x1="1058.7" y1="109.8" x2="1063.7" y2="104" stroke-width="2.5"/>
<line x1="1063.7" y1="104" x2="1069.4" y2="103.4" stroke-width="3.28"/>
<line x1="1069.4" y1="103.4" x2="1097.2" y2="103.4" stroke-width="3.3"/>
<line x1="1097.2" y1="103.4" x2="1103" y2="109.1" stroke-width="2.35"/>
<line x1="1103" y1="109.1" x2="1108" y2="114.5" stroke-width="2.42"/>
<line x1="1108" y1="114.5" x2="1117.1" y2="121" stroke-width="2.69"/>
<line x1="1117.1" y1="121" x2="1138.5" y2="126.4" stroke-width="3.2"/>
<line x1="1138.5" y1="126.4" x2="1149.2" y2="133.9" stroke-width="2.7"/>
<line x1="1149.2" y1="133.9" x2="1151.3" y2="147.8" stroke-width="3.26"/>
<line x1="1151.3" y1="147.8" x2="1157.8" y2="152" stroke-width="2.77"/>
<line x1="1157.8" y1="152" x2="1170.6" y2="158.4" stroke-width="2.95"/>
<line x1="1170.6" y1="158.4" x2="1189.8" y2="161.7" stroke-width="3.25"/>
<line x1="1189.8" y1="161.7" x2="1208" y2="165.9" stroke-width="3.22"/>
<line x1="1208" y1="165.9" x2="1219.8" y2="170.2" stroke-width="3.1"/>
<line x1="1219.8" y1="170.2" x2="1232.6" y2="172.4" stroke-width="3.25"/>
<line x1="1232.6" y1="172.4" x2="1243.3" y2="178.8" stroke-width="2.83"/>
<line x1="1243.3" y1="178.8" x2="1258.3" y2="180.9" stroke-width="3.27"/>
<line x1="1258.3" y1="180.9" x2="1275.4" y2="188.4" stroke-width="3.02"/>
<line x1="1275.4" y1="188.4" x2="1295" y2="191" stroke-width="3.27"/>
<line x1="1295" y1="191" x2="1308.3" y2="193.7" stroke-width="3.23"/>
<line x1="1308.3" y1="193.7" x2="1326.5" y2="194.8" stroke-width="3.29"/>
<line x1="1326.5" y1="194.8" x2="1358.5" y2="199.4" stroke-width="3.27"/>
<line x1="1358.5" y1="199.4" x2="1372.2" y2="202.8" stroke-width="3.2"/>
<line x1="1372.2" y1="202.8" x2="1390.5" y2="205.1" stroke-width="3.27"/>
<line x1="1390.5" y1="205.1" x2="1408.7" y2="210.8" stroke-width="3.15"/>
<line x1="1408.7" y1="210.8" x2="1431.6" y2="209.6" stroke-width="3.3"/>
<line x1="1431.6" y1="209.6" x2="1459" y2="211.9" stroke-width="3.29"/>
<line x1="1459" y1="211.9" x2="1472.6" y2="213.5" stroke-width="3.28"/>
<line x1="1472.6" y1="213.5" x2="1509.2" y2="213.5" stroke-width="3.3"/>
</g>
<g fill="#808080">
<rect x="1001.6" y="47.3" width="12.4" height="12.4"/>
<rect x="1101.8" y="108.3" width="12.4" height="12.4"/>
<rect x="1151.6" y="145.8" width="12.4" height="12.4"/>
<rect x="1201.8" y="159.7" width="12.4" height="12.4"/>
<rect x="1252.1" y="174.7" width="12.4" height="12.4"/>
<rect x="1302.1" y="187.5" width="12.4" height="12.4"/>
<rect x="1352.3" y="193.2" width="12.4" height="12.4"/>
<rect x="1402.5" y="204.6" width="12.4" height="12.4"/>
<rect x="1452.8" y="205.7" width="12.4" height="12.4"/>
<rect x="1503" y="207.3" width="12.4" height="12.4"/>
</g>
<g fill="none" stroke="#B472FF" stroke-linecap="round">
<line x1="909" y1="545" x2="962.5" y2="299.7" stroke-width="3.13"/>
<line x1="962.5" y1="299.7" x2="974.2" y2="250.5" stroke-width="3.11"/>
<line x1="974.2" y1="250.5" x2="983.9" y2="222.7" stroke-width="3.02"/>
<line x1="983.9" y1="222.7" x2="994.6" y2="203.5" stroke-width="2.8"/>
<line x1="994.6" y1="203.5" x2="1004" y2="176" stroke-width="3.03"/>
<line x1="1004" y1="176" x2="1010.6" y2="148.5" stroke-width="3.11"/>
<line x1="1010.6" y1="148.5" x2="1019.1" y2="109.1" stroke-width="3.13"/>
<line x1="1019.1" y1="109.1" x2="1024.3" y2="93.7" stroke-width="3.03"/>
<line x1="1024.3" y1="93.7" x2="1026.8" y2="88.6" stroke-width="2.87"/>
<line x1="1026.8" y1="88.6" x2="1029.4" y2="105.7" stroke-width="3.16"/>
<line x1="1029.4" y1="105.7" x2="1034.5" y2="98.8" stroke-width="2.57"/>
<line x1="1034.5" y1="98.8" x2="1043.1" y2="87.7" stroke-width="2.53"/>
<line x1="1043.1" y1="87.7" x2="1044.8" y2="105.7" stroke-width="3.19"/>
<line x1="1044.8" y1="105.7" x2="1055.1" y2="112.5" stroke-width="2.67"/>
<line x1="1055.1" y1="112.5" x2="1065.4" y2="104" stroke-width="2.47"/>
<line x1="1065.4" y1="104" x2="1072.2" y2="105.7" stroke-width="3.1"/>
<line x1="1072.2" y1="105.7" x2="1079.1" y2="114.3" stroke-width="2.5"/>
<line x1="1079.1" y1="114.3" x2="1083.4" y2="131.4" stroke-width="3.1"/>
<line x1="1083.4" y1="131.4" x2="1085.9" y2="145.1" stroke-width="3.15"/>
<line x1="1085.9" y1="145.1" x2="1092.8" y2="153.7" stroke-width="2.5"/>
<line x1="1092.8" y1="153.7" x2="1101.3" y2="148.5" stroke-width="2.73"/>
<line x1="1101.3" y1="148.5" x2="1117.1" y2="149.9" stroke-width="3.19"/>
<line x1="1117.1" y1="149.9" x2="1132.1" y2="154.2" stroke-width="3.08"/>
<line x1="1132.1" y1="154.2" x2="1144.9" y2="162.7" stroke-width="2.67"/>
<line x1="1144.9" y1="162.7" x2="1151.3" y2="168.1" stroke-width="2.45"/>
<line x1="1151.3" y1="168.1" x2="1166.3" y2="174.5" stroke-width="2.94"/>
<line x1="1166.3" y1="174.5" x2="1173.8" y2="186.3" stroke-width="2.7"/>
<line x1="1173.8" y1="186.3" x2="1183.4" y2="192.7" stroke-width="2.66"/>
<line x1="1183.4" y1="192.7" x2="1201.6" y2="200.2" stroke-width="2.96"/>
<line x1="1201.6" y1="200.2" x2="1219.8" y2="205.5" stroke-width="3.07"/>
<line x1="1219.8" y1="205.5" x2="1236.9" y2="209.8" stroke-width="3.1"/>
<line x1="1236.9" y1="209.8" x2="1251.9" y2="214.1" stroke-width="3.08"/>
<line x1="1251.9" y1="214.1" x2="1271.1" y2="216.2" stroke-width="3.18"/>
<line x1="1271.1" y1="216.2" x2="1290" y2="221" stroke-width="3.1"/>
<line x1="1290" y1="221" x2="1302.6" y2="229" stroke-width="2.7"/>
<line x1="1302.6" y1="229" x2="1324.2" y2="233.6" stroke-width="3.13"/>
<line x1="1324.2" y1="233.6" x2="1351.6" y2="240.5" stroke-width="3.1"/>
<line x1="1351.6" y1="240.5" x2="1365.3" y2="249.6" stroke-width="2.67"/>
<line x1="1365.3" y1="249.6" x2="1385.9" y2="256.4" stroke-width="3.04"/>
<line x1="1385.9" y1="256.4" x2="1403" y2="262.1" stroke-width="3.04"/>
<line x1="1403" y1="262.1" x2="1417.9" y2="267.9" stroke-width="2.98"/>
<line x1="1417.9" y1="267.9" x2="1447.5" y2="275.8" stroke-width="3.09"/>
<line x1="1447.5" y1="275.8" x2="1452.1" y2="274.7" stroke-width="3.11"/>
<line x1="1452.1" y1="274.7" x2="1463.5" y2="280.4" stroke-width="2.86"/>
<line x1="1463.5" y1="280.4" x2="1484.1" y2="282.7" stroke-width="3.18"/>
<line x1="1484.1" y1="282.7" x2="1503.5" y2="285" stroke-width="3.18"/>
<line x1="1503.5" y1="285" x2="1529.7" y2="286.1" stroke-width="3.2"/>
<line x1="1529.7" y1="286.1" x2="1553.7" y2="288.4" stroke-width="3.19"/>
<line x1="1553.7" y1="288.4" x2="1584" y2="294" stroke-width="3.15"/>
</g>
<g fill="#B472FF">
<circle cx="1004" cy="176" r="6.3"/>
<circle cx="1101.3" cy="148.5" r="6.3"/>
<circle cx="1151.3" cy="168.1" r="6.3"/>
<circle cx="1201.6" cy="200.2" r="6.3"/>
<circle cx="1251.9" cy="214.1" r="6.3"/>
<circle cx="1302.6" cy="229" r="6.3"/>
<circle cx="1351.6" cy="240.5" r="6.3"/>
<circle cx="1403" cy="262.1" r="6.3"/>
<circle cx="1452.1" cy="274.7" r="6.3"/>
<circle cx="1503.5" cy="285" r="6.3"/>
<circle cx="1553.7" cy="288.4" r="6.3"/>
</g>
<g fill="none" stroke="#00FFFF" stroke-linecap="round">
<line x1="909" y1="545" x2="962" y2="299.7" stroke-width="3.32"/>
<line x1="962" y1="299.7" x2="977.8" y2="231.3" stroke-width="3.31"/>
<line x1="977.8" y1="231.3" x2="986.6" y2="197" stroke-width="3.29"/>
<line x1="986.6" y1="197" x2="993.4" y2="176" stroke-width="3.23"/>
<line x1="993.4" y1="176" x2="998.8" y2="150" stroke-width="3.33"/>
<line x1="998.8" y1="150" x2="1000.3" y2="138.2" stroke-width="3.37"/>
<line x1="1000.3" y1="138.2" x2="1003" y2="140" stroke-width="2.83"/>
<line x1="1003" y1="140" x2="1010.6" y2="105.7" stroke-width="3.32"/>
<line x1="1010.6" y1="105.7" x2="1015.7" y2="86.9" stroke-width="3.28"/>
<line x1="1015.7" y1="86.9" x2="1020.8" y2="89.4" stroke-width="3.05"/>
<line x1="1020.8" y1="89.4" x2="1024.3" y2="105.7" stroke-width="3.32"/>
<line x1="1024.3" y1="105.7" x2="1025.1" y2="131.4" stroke-width="3.4"/>
<line x1="1025.1" y1="131.4" x2="1031.1" y2="136.5" stroke-width="2.59"/>
<line x1="1031.1" y1="136.5" x2="1032" y2="153.7" stroke-width="3.4"/>
<line x1="1032" y1="153.7" x2="1039.7" y2="148.5" stroke-width="2.82"/>
<line x1="1039.7" y1="148.5" x2="1041.4" y2="162.2" stroke-width="3.37"/>
<line x1="1041.4" y1="162.2" x2="1045.9" y2="175.7" stroke-width="3.23"/>
<line x1="1045.9" y1="175.7" x2="1048.2" y2="175.9" stroke-width="3.39"/>
<line x1="1048.2" y1="175.9" x2="1055.1" y2="184.5" stroke-width="2.65"/>
<line x1="1055.1" y1="184.5" x2="1061.9" y2="177.6" stroke-width="2.42"/>
<line x1="1061.9" y1="177.6" x2="1072.2" y2="173.4" stroke-width="3.15"/>
<line x1="1072.2" y1="173.4" x2="1092.8" y2="174.2" stroke-width="3.4"/>
<line x1="1092.8" y1="174.2" x2="1103" y2="175.9" stroke-width="3.35"/>
<line x1="1103" y1="175.9" x2="1106" y2="178" stroke-width="2.79"/>
<line x1="1106" y1="178" x2="1117.1" y2="182" stroke-width="3.2"/>
<line x1="1117.1" y1="182" x2="1138.5" y2="186.3" stroke-width="3.33"/>
<line x1="1138.5" y1="186.3" x2="1144.9" y2="194.8" stroke-width="2.72"/>
<line x1="1144.9" y1="194.8" x2="1156.7" y2="192.7" stroke-width="3.35"/>
<line x1="1156.7" y1="192.7" x2="1174.9" y2="189.5" stroke-width="3.35"/>
<line x1="1174.9" y1="189.5" x2="1205.9" y2="188.4" stroke-width="3.4"/>
<line x1="1205.9" y1="188.4" x2="1228.3" y2="194.8" stroke-width="3.27"/>
<line x1="1228.3" y1="194.8" x2="1241.2" y2="200.2" stroke-width="3.14"/>
<line x1="1241.2" y1="200.2" x2="1256.1" y2="197" stroke-width="3.32"/>
<line x1="1256.1" y1="197" x2="1271.1" y2="206.6" stroke-width="2.86"/>
<line x1="1271.1" y1="206.6" x2="1275.4" y2="214.1" stroke-width="2.95"/>
<line x1="1275.4" y1="214.1" x2="1292.5" y2="216.2" stroke-width="3.37"/>
<line x1="1292.5" y1="216.2" x2="1307.1" y2="215.3" stroke-width="3.39"/>
<line x1="1307.1" y1="215.3" x2="1315.1" y2="229" stroke-width="2.94"/>
<line x1="1315.1" y1="229" x2="1331.1" y2="240.5" stroke-width="2.76"/>
<line x1="1331.1" y1="240.5" x2="1342.5" y2="245" stroke-width="3.16"/>
<line x1="1342.5" y1="245" x2="1356.2" y2="251.9" stroke-width="3.04"/>
<line x1="1356.2" y1="251.9" x2="1376.8" y2="263.3" stroke-width="2.97"/>
<line x1="1376.8" y1="263.3" x2="1397.3" y2="271.3" stroke-width="3.17"/>
<line x1="1397.3" y1="271.3" x2="1406.4" y2="272.4" stroke-width="3.38"/>
<line x1="1406.4" y1="272.4" x2="1415.6" y2="281.6" stroke-width="2.4"/>
<line x1="1415.6" y1="281.6" x2="1429.3" y2="287.3" stroke-width="3.14"/>
<line x1="1429.3" y1="287.3" x2="1453" y2="290.6" stroke-width="3.37"/>
</g>
<g fill="#00FFFF">
<polygon points="1003,132.8 1011.3,147.2 994.7,147.2"/>
<polygon points="1055.1,177.3 1063.4,191.7 1046.8,191.7"/>
<polygon points="1106,170.8 1114.3,185.2 1097.7,185.2"/>
<polygon points="1156.7,185.5 1165,199.9 1148.4,199.9"/>
<polygon points="1205.9,181.2 1214.2,195.6 1197.6,195.6"/>
<polygon points="1256.1,189.8 1264.4,204.2 1247.8,204.2"/>
<polygon points="1307.1,208.1 1315.4,222.5 1298.8,222.5"/>
<polygon points="1356.2,244.7 1364.5,259.1 1347.9,259.1"/>
<polygon points="1406.4,265.2 1414.7,279.6 1398.1,279.6"/>
</g>
<g fill="none" stroke="#FF0000" stroke-linecap="round">
<line x1="909" y1="545" x2="965.7" y2="299.7" stroke-width="3.41"/>
<line x1="965.7" y1="299.7" x2="975.3" y2="248.4" stroke-width="3.44"/>
<line x1="975.3" y1="248.4" x2="983.9" y2="218.4" stroke-width="3.36"/>
<line x1="983.9" y1="218.4" x2="994.6" y2="180" stroke-width="3.37"/>
<line x1="994.6" y1="180" x2="1003.4" y2="160.5" stroke-width="3.19"/>
<line x1="1003.4" y1="160.5" x2="1015.7" y2="131.4" stroke-width="3.22"/>
<line x1="1015.7" y1="131.4" x2="1026" y2="107.4" stroke-width="3.22"/>
<line x1="1026" y1="107.4" x2="1032.8" y2="94.6" stroke-width="3.09"/>
<line x1="1032.8" y1="94.6" x2="1044.8" y2="90.3" stroke-width="3.29"/>
<line x1="1044.8" y1="90.3" x2="1046.5" y2="109.1" stroke-width="3.49"/>
<line x1="1046.5" y1="109.1" x2="1053.4" y2="114.3" stroke-width="2.8"/>
<line x1="1053.4" y1="114.3" x2="1060.2" y2="122.8" stroke-width="2.73"/>
<line x1="1060.2" y1="122.8" x2="1075.6" y2="122.8" stroke-width="3.5"/>
<line x1="1075.6" y1="122.8" x2="1079.1" y2="143.4" stroke-width="3.45"/>
<line x1="1079.1" y1="143.4" x2="1087.6" y2="148.5" stroke-width="3"/>
<line x1="1087.6" y1="148.5" x2="1096.2" y2="155.4" stroke-width="2.73"/>
<line x1="1096.2" y1="155.4" x2="1104.5" y2="160.5" stroke-width="2.98"/>
<line x1="1104.5" y1="160.5" x2="1112.8" y2="171.3" stroke-width="2.78"/>
<line x1="1112.8" y1="171.3" x2="1115" y2="172.5" stroke-width="3.07"/>
<line x1="1115" y1="172.5" x2="1116" y2="199.1" stroke-width="3.5"/>
<line x1="1116" y1="199.1" x2="1127.8" y2="201.2" stroke-width="3.45"/>
<line x1="1127.8" y1="201.2" x2="1140.6" y2="207.6" stroke-width="3.13"/>
<line x1="1140.6" y1="207.6" x2="1154.5" y2="216.2" stroke-width="2.98"/>
<line x1="1154.5" y1="216.2" x2="1164.2" y2="237.6" stroke-width="3.19"/>
<line x1="1164.2" y1="237.6" x2="1166.3" y2="245.7" stroke-width="3.39"/>
<line x1="1166.3" y1="245.7" x2="1187.7" y2="246.7" stroke-width="3.5"/>
<line x1="1187.7" y1="246.7" x2="1189.8" y2="258.5" stroke-width="3.45"/>
<line x1="1189.8" y1="258.5" x2="1202.7" y2="258.5" stroke-width="3.5"/>
<line x1="1202.7" y1="258.5" x2="1217.6" y2="259.6" stroke-width="3.49"/>
<line x1="1217.6" y1="259.6" x2="1226.2" y2="266" stroke-width="2.81"/>
<line x1="1226.2" y1="266" x2="1239" y2="267.1" stroke-width="3.49"/>
<line x1="1239" y1="267.1" x2="1252.9" y2="272.4" stroke-width="3.27"/>
<line x1="1252.9" y1="272.4" x2="1277.5" y2="272.4" stroke-width="3.5"/>
<line x1="1277.5" y1="272.4" x2="1284" y2="276.7" stroke-width="2.92"/>
<line x1="1284" y1="276.7" x2="1290" y2="276.7" stroke-width="3.5"/>
<line x1="1290" y1="276.7" x2="1303.9" y2="277.6" stroke-width="3.49"/>
<line x1="1303.9" y1="277.6" x2="1317.8" y2="281.3" stroke-width="3.38"/>
<line x1="1317.8" y1="281.3" x2="1341.9" y2="282.3" stroke-width="3.5"/>
<line x1="1341.9" y1="282.3" x2="1354" y2="283.2" stroke-width="3.49"/>
<line x1="1354" y1="283.2" x2="1366" y2="286" stroke-width="3.41"/>
<line x1="1366" y1="286" x2="1375.3" y2="284.1" stroke-width="3.43"/>
<line x1="1375.3" y1="284.1" x2="1392" y2="283.2" stroke-width="3.49"/>
<line x1="1392" y1="283.2" x2="1404" y2="284.1" stroke-width="3.49"/>
<line x1="1404" y1="284.1" x2="1429.1" y2="284.1" stroke-width="3.5"/>
<line x1="1429.1" y1="284.1" x2="1454.1" y2="282.3" stroke-width="3.49"/>
<line x1="1454.1" y1="282.3" x2="1468" y2="282.3" stroke-width="3.5"/>
<line x1="1468" y1="282.3" x2="1477.3" y2="280.4" stroke-width="3.43"/>
<line x1="1477.3" y1="280.4" x2="1495.8" y2="281.3" stroke-width="3.5"/>
</g>
<g fill="#FF0000">
<polygon points="1003.4,152.1 1011.2,160.5 1003.4,168.9 995.6,160.5"/>
<polygon points="1053.4,105.9 1061.2,114.3 1053.4,122.7 1045.6,114.3"/>
<polygon points="1104.5,152.1 1112.3,160.5 1104.5,168.9 1096.7,160.5"/>
<polygon points="1154.5,207.8 1162.3,216.2 1154.5,224.6 1146.7,216.2"/>
<polygon points="1202.7,250.1 1210.5,258.5 1202.7,266.9 1194.9,258.5"/>
<polygon points="1252.9,264 1260.7,272.4 1252.9,280.8 1245.1,272.4"/>
<polygon points="1303.9,269.2 1311.7,277.6 1303.9,286 1296.1,277.6"/>
<polygon points="1354,274.8 1361.8,283.2 1354,291.6 1346.2,283.2"/>
<polygon points="1404,275.7 1411.8,284.1 1404,292.5 1396.2,284.1"/>
<polygon points="1454.1,273.9 1461.9,282.3 1454.1,290.7 1446.3,282.3"/>
</g>
<g fill="none" stroke="#008000" stroke-linecap="round">
<line x1="909" y1="545" x2="931" y2="471" stroke-width="3.35"/>
<line x1="931" y1="471" x2="940" y2="446" stroke-width="3.29"/>
<line x1="940" y1="446" x2="953.6" y2="396" stroke-width="3.38"/>
<line x1="953.6" y1="396" x2="961.5" y2="374" stroke-width="3.29"/>
<line x1="961.5" y1="374" x2="970.5" y2="340" stroke-width="3.38"/>
<line x1="970.5" y1="340" x2="973.5" y2="333" stroke-width="3.22"/>
<line x1="973.5" y1="333" x2="985" y2="310.4" stroke-width="3.12"/>
<line x1="985" y1="310.4" x2="990.3" y2="299.7" stroke-width="3.14"/>
<line x1="990.3" y1="299.7" x2="1003.1" y2="274" stroke-width="3.13"/>
<line x1="1003.1" y1="274" x2="1016" y2="244.1" stroke-width="3.21"/>
<line x1="1016" y1="244.1" x2="1023.4" y2="223.8" stroke-width="3.29"/>
<line x1="1023.4" y1="223.8" x2="1037.3" y2="203.5" stroke-width="2.89"/>
<line x1="1037.3" y1="203.5" x2="1049.1" y2="191.7" stroke-width="2.47"/>
<line x1="1049.1" y1="191.7" x2="1056.6" y2="201.3" stroke-width="2.76"/>
<line x1="1056.6" y1="201.3" x2="1065.1" y2="209.9" stroke-width="2.49"/>
<line x1="1065.1" y1="209.9" x2="1074.8" y2="218.4" stroke-width="2.63"/>
<line x1="1074.8" y1="218.4" x2="1084.4" y2="220.6" stroke-width="3.41"/>
<line x1="1084.4" y1="220.6" x2="1090.8" y2="224.9" stroke-width="2.91"/>
<line x1="1090.8" y1="224.9" x2="1097.2" y2="237.7" stroke-width="3.13"/>
<line x1="1097.2" y1="237.7" x2="1099.4" y2="248.4" stroke-width="3.43"/>
<line x1="1099.4" y1="248.4" x2="1109" y2="246.3" stroke-width="3.42"/>
<line x1="1109" y1="246.3" x2="1123.5" y2="250" stroke-width="3.39"/>
<line x1="1123.5" y1="250" x2="1142.8" y2="253.2" stroke-width="3.45"/>
<line x1="1142.8" y1="253.2" x2="1162" y2="261.7" stroke-width="3.2"/>
<line x1="1162" y1="261.7" x2="1174.9" y2="269.2" stroke-width="3.03"/>
<line x1="1174.9" y1="269.2" x2="1189.8" y2="274.5" stroke-width="3.3"/>
<line x1="1189.8" y1="274.5" x2="1207" y2="281" stroke-width="3.27"/>
<line x1="1207" y1="281" x2="1224.1" y2="284.2" stroke-width="3.44"/>
<line x1="1224.1" y1="284.2" x2="1245.5" y2="291.7" stroke-width="3.3"/>
<line x1="1245.5" y1="291.7" x2="1262.6" y2="294.9" stroke-width="3.44"/>
<line x1="1262.6" y1="294.9" x2="1274.3" y2="297" stroke-width="3.44"/>
<line x1="1274.3" y1="297" x2="1288.2" y2="303.4" stroke-width="3.18"/>
<line x1="1288.2" y1="303.4" x2="1300" y2="306.6" stroke-width="3.38"/>
<line x1="1300" y1="306.6" x2="1314.1" y2="311" stroke-width="3.34"/>
<line x1="1314.1" y1="311" x2="1325.2" y2="312.8" stroke-width="3.45"/>
<line x1="1325.2" y1="312.8" x2="1345.6" y2="320.3" stroke-width="3.29"/>
<line x1="1345.6" y1="320.3" x2="1364.2" y2="324.9" stroke-width="3.4"/>
<line x1="1364.2" y1="324.9" x2="1375.3" y2="328.6" stroke-width="3.32"/>
<line x1="1375.3" y1="328.6" x2="1393.8" y2="332.3" stroke-width="3.43"/>
<line x1="1393.8" y1="332.3" x2="1410.5" y2="338.8" stroke-width="3.26"/>
<line x1="1410.5" y1="338.8" x2="1425.4" y2="342.5" stroke-width="3.4"/>
<line x1="1425.4" y1="342.5" x2="1438.3" y2="345.3" stroke-width="3.42"/>
<line x1="1438.3" y1="345.3" x2="1456.9" y2="347.2" stroke-width="3.48"/>
<line x1="1456.9" y1="347.2" x2="1475.4" y2="350.9" stroke-width="3.43"/>
<line x1="1475.4" y1="350.9" x2="1490.3" y2="351.8" stroke-width="3.49"/>
</g>
<g fill="#008000">
<polygon points="973.5,340.2 981.8,325.8 965.2,325.8"/>
<polygon points="1023.4,231 1031.7,216.6 1015.1,216.6"/>
<polygon points="1074.8,225.6 1083.1,211.2 1066.5,211.2"/>
<polygon points="1123.5,257.2 1131.8,242.8 1115.2,242.8"/>
<polygon points="1174.9,276.4 1183.2,262 1166.6,262"/>
<polygon points="1224.1,291.4 1232.4,277 1215.8,277"/>
<polygon points="1274.3,304.2 1282.6,289.8 1266,289.8"/>
<polygon points="1325.2,320 1333.5,305.6 1316.9,305.6"/>
<polygon points="1375.3,335.8 1383.6,321.4 1367,321.4"/>
<polygon points="1425.4,349.7 1433.7,335.3 1417.1,335.3"/>
<polygon points="1475.4,358.1 1483.7,343.7 1467.1,343.7"/>
</g>
<g fill="none" stroke="#FF8000" stroke-linecap="round">
<line x1="909" y1="545" x2="909.6" y2="540.2" stroke-width="3.57"/>
<line x1="909.6" y1="540.2" x2="916.4" y2="538.5" stroke-width="3.49"/>
<line x1="916.4" y1="538.5" x2="939.2" y2="521.4" stroke-width="2.88"/>
<line x1="939.2" y1="521.4" x2="962.1" y2="506.5" stroke-width="3.02"/>
<line x1="962.1" y1="506.5" x2="983.8" y2="491.7" stroke-width="2.97"/>
<line x1="983.8" y1="491.7" x2="990.6" y2="487.5" stroke-width="3.06"/>
<line x1="990.6" y1="487.5" x2="1007.3" y2="479.2" stroke-width="3.22"/>
<line x1="1007.3" y1="479.2" x2="1024" y2="471.8" stroke-width="3.29"/>
<line x1="1024" y1="471.8" x2="1038.9" y2="466.3" stroke-width="3.38"/>
<line x1="1038.9" y1="466.3" x2="1055.6" y2="460.7" stroke-width="3.41"/>
<line x1="1055.6" y1="460.7" x2="1083.4" y2="451.4" stroke-width="3.41"/>
<line x1="1083.4" y1="451.4" x2="1090" y2="451.2" stroke-width="3.6"/>
<line x1="1090" y1="451.2" x2="1106" y2="444.1" stroke-width="3.29"/>
<line x1="1106" y1="444.1" x2="1123.9" y2="441.4" stroke-width="3.56"/>
<line x1="1123.9" y1="441.4" x2="1143.5" y2="441.4" stroke-width="3.6"/>
<line x1="1143.5" y1="441.4" x2="1156" y2="444.1" stroke-width="3.52"/>
<line x1="1156" y1="444.1" x2="1175.6" y2="446.7" stroke-width="3.57"/>
<line x1="1175.6" y1="446.7" x2="1186.3" y2="447.6" stroke-width="3.59"/>
<line x1="1186.3" y1="447.6" x2="1193.4" y2="451.2" stroke-width="3.21"/>
<line x1="1193.4" y1="451.2" x2="1206.8" y2="451.2" stroke-width="3.6"/>
<line x1="1206.8" y1="451.2" x2="1218.4" y2="453.9" stroke-width="3.51"/>
<line x1="1218.4" y1="453.9" x2="1245.1" y2="460.1" stroke-width="3.51"/>
<line x1="1245.1" y1="460.1" x2="1256.7" y2="462.8" stroke-width="3.51"/>
<line x1="1256.7" y1="462.8" x2="1268.3" y2="466.4" stroke-width="3.44"/>
<line x1="1268.3" y1="466.4" x2="1293.2" y2="471.7" stroke-width="3.52"/>
<line x1="1293.2" y1="471.7" x2="1306.9" y2="471.9" stroke-width="3.6"/>
<line x1="1306.9" y1="471.9" x2="1316.7" y2="477" stroke-width="3.19"/>
<line x1="1316.7" y1="477" x2="1336.4" y2="477.9" stroke-width="3.6"/>
<line x1="1336.4" y1="477.9" x2="1356.9" y2="480.6" stroke-width="3.57"/>
<line x1="1356.9" y1="480.6" x2="1372" y2="483.3" stroke-width="3.54"/>
<line x1="1372" y1="483.3" x2="1391.6" y2="487.7" stroke-width="3.51"/>
<line x1="1391.6" y1="487.7" x2="1406.8" y2="490.4" stroke-width="3.54"/>
<line x1="1406.8" y1="490.4" x2="1427.3" y2="493.1" stroke-width="3.57"/>
<line x1="1427.3" y1="493.1" x2="1446.9" y2="496.7" stroke-width="3.54"/>
<line x1="1446.9" y1="496.7" x2="1456.7" y2="498.4" stroke-width="3.55"/>
<line x1="1456.7" y1="498.4" x2="1471.8" y2="502" stroke-width="3.5"/>
<line x1="1471.8" y1="502" x2="1494.1" y2="504.7" stroke-width="3.57"/>
</g>
<g fill="#FF8000">
<polygon points="990.6,479.9 997.8,485.2 995.1,493.6 986.1,493.6 983.4,485.2"/>
<polygon points="1007.3,471.6 1014.5,476.9 1011.8,485.3 1002.8,485.3 1000.1,476.9"/>
<polygon points="1024,464.2 1031.2,469.5 1028.5,477.9 1019.5,477.9 1016.8,469.5"/>
<polygon points="1055.6,453.1 1062.8,458.4 1060.1,466.8 1051.1,466.8 1048.4,458.4"/>
<polygon points="1106,436.5 1113.2,441.8 1110.5,450.2 1101.5,450.2 1098.8,441.8"/>
<polygon points="1156,436.5 1163.2,441.8 1160.5,450.2 1151.5,450.2 1148.8,441.8"/>
<polygon points="1206.8,443.6 1214,448.9 1211.3,457.3 1202.3,457.3 1199.6,448.9"/>
<polygon points="1256.7,455.2 1263.9,460.5 1261.2,468.9 1252.2,468.9 1249.5,460.5"/>
<polygon points="1306.9,464.3 1314.1,469.6 1311.4,478 1302.4,478 1299.7,469.6"/>
<polygon points="1356.9,473 1364.1,478.3 1361.4,486.7 1352.4,486.7 1349.7,478.3"/>
<polygon points="1406.8,482.8 1414,488.1 1411.3,496.5 1402.3,496.5 1399.6,488.1"/>
<polygon points="1456.7,490.8 1463.9,496.1 1461.2,504.5 1452.2,504.5 1449.5,496.1"/>
</g>
<g fill="none" stroke="#0000FF" stroke-linecap="round">
<line x1="909" y1="545" x2="909.6" y2="541.9" stroke-width="3.53"/>
<line x1="909.6" y1="541.9" x2="927.8" y2="540.8" stroke-width="3.59"/>
<line x1="927.8" y1="540.8" x2="950.7" y2="535.1" stroke-width="3.49"/>
<line x1="950.7" y1="535.1" x2="973.5" y2="530" stroke-width="3.51"/>
<line x1="973.5" y1="530" x2="1003.6" y2="522" stroke-width="3.48"/>
<line x1="1003.6" y1="522" x2="1031.4" y2="516.4" stroke-width="3.53"/>
<line x1="1031.4" y1="516.4" x2="1055.6" y2="514.5" stroke-width="3.59"/>
<line x1="1055.6" y1="514.5" x2="1076" y2="512.6" stroke-width="3.58"/>
<line x1="1076" y1="512.6" x2="1090" y2="514.5" stroke-width="3.57"/>
<line x1="1090" y1="514.5" x2="1106" y2="516.3" stroke-width="3.58"/>
<line x1="1106" y1="516.3" x2="1134.6" y2="517.2" stroke-width="3.6"/>
<line x1="1134.6" y1="517.2" x2="1156" y2="519" stroke-width="3.59"/>
<line x1="1156" y1="519" x2="1166.7" y2="520.7" stroke-width="3.56"/>
<line x1="1166.7" y1="520.7" x2="1186.3" y2="521.6" stroke-width="3.6"/>
<line x1="1186.3" y1="521.6" x2="1205.9" y2="522.5" stroke-width="3.6"/>
<line x1="1205.9" y1="522.5" x2="1238" y2="523.4" stroke-width="3.6"/>
<line x1="1238" y1="523.4" x2="1255.8" y2="524.3" stroke-width="3.6"/>
<line x1="1255.8" y1="524.3" x2="1268.3" y2="527" stroke-width="3.52"/>
<line x1="1268.3" y1="527" x2="1290" y2="527" stroke-width="3.6"/>
<line x1="1290" y1="527" x2="1306" y2="527" stroke-width="3.6"/>
<line x1="1306" y1="527" x2="1343.5" y2="528.8" stroke-width="3.6"/>
<line x1="1343.5" y1="528.8" x2="1355.1" y2="529.6" stroke-width="3.59"/>
<line x1="1355.1" y1="529.6" x2="1379.1" y2="531.4" stroke-width="3.59"/>
<line x1="1379.1" y1="531.4" x2="1405.9" y2="532.3" stroke-width="3.6"/>
<line x1="1405.9" y1="532.3" x2="1452.2" y2="532.3" stroke-width="3.6"/>
</g>
<g fill="#0000FF">
<polygon points="1003.6,514 1005.7,519.1 1011.2,519.5 1007,523.1 1008.3,528.5 1003.6,525.6 998.9,528.5 1000.2,523.1 996,519.5 1001.5,519.1"/>
<polygon points="1055.6,506.5 1057.7,511.6 1063.2,512 1059,515.6 1060.3,521 1055.6,518.1 1050.9,521 1052.2,515.6 1048,512 1053.5,511.6"/>
<polygon points="1106,508.3 1108.1,513.4 1113.6,513.8 1109.4,517.4 1110.7,522.8 1106,519.9 1101.3,522.8 1102.6,517.4 1098.4,513.8 1103.9,513.4"/>
<polygon points="1156,511 1158.1,516.1 1163.6,516.5 1159.4,520.1 1160.7,525.5 1156,522.6 1151.3,525.5 1152.6,520.1 1148.4,516.5 1153.9,516.1"/>
<polygon points="1205.9,514.5 1208,519.6 1213.5,520 1209.3,523.6 1210.6,529 1205.9,526.1 1201.2,529 1202.5,523.6 1198.3,520 1203.8,519.6"/>
<polygon points="1255.8,516.3 1257.9,521.4 1263.4,521.8 1259.2,525.4 1260.5,530.8 1255.8,527.9 1251.1,530.8 1252.4,525.4 1248.2,521.8 1253.7,521.4"/>
<polygon points="1306,519 1308.1,524.1 1313.6,524.5 1309.4,528.1 1310.7,533.5 1306,530.6 1301.3,533.5 1302.6,528.1 1298.4,524.5 1303.9,524.1"/>
<polygon points="1355.1,521.6 1357.2,526.7 1362.7,527.1 1358.5,530.7 1359.8,536.1 1355.1,533.2 1350.4,536.1 1351.7,530.7 1347.5,527.1 1353,526.7"/>
<polygon points="1405.9,524.3 1408,529.4 1413.5,529.8 1409.3,533.4 1410.6,538.8 1405.9,535.9 1401.2,538.8 1402.5,533.4 1398.3,529.8 1403.8,529.4"/>
</g>
<g fill="none" stroke="#000" stroke-width="2.8" stroke-dasharray="8 4.6">
<ellipse cx="1012" cy="44.2" rx="20.6" ry="35.5"/>
</g>
<line x1="1033" y1="49.2" x2="1074" y2="49.2" stroke="#000" stroke-width="3"/>
<line x1="1033" y1="39" x2="1033" y2="50.5" stroke="#000" stroke-width="3"/>
<polygon points="1094.2,49.2 1071.5,41.8 1071.5,56.6" fill="#000"/>
<g stroke="#000" stroke-width="2.2" fill="none" stroke-linecap="butt">
<path d="M908.8 544.9 H1584.8 V0.6 H908.8 Z"/>
<line x1="908.8" y1="544.9" x2="908.8" y2="555.9"/>
<line x1="976" y1="544.9" x2="976" y2="549.9"/>
<line x1="1043.2" y1="544.9" x2="1043.2" y2="555.9"/>
<line x1="1110.5" y1="544.9" x2="1110.5" y2="549.9"/>
<line x1="1177.8" y1="544.9" x2="1177.8" y2="555.9"/>
<line x1="1245.8" y1="544.9" x2="1245.8" y2="549.9"/>
<line x1="1313.9" y1="544.9" x2="1313.9" y2="555.9"/>
<line x1="1381.2" y1="544.9" x2="1381.2" y2="549.9"/>
<line x1="1448.5" y1="544.9" x2="1448.5" y2="555.9"/>
<line x1="1516.7" y1="544.9" x2="1516.7" y2="549.9"/>
<line x1="1584.8" y1="544.9" x2="1584.8" y2="555.9"/>
<line x1="908.8" y1="544.9" x2="897.8" y2="544.9"/>
<line x1="908.8" y1="495.5" x2="903.8" y2="495.5"/>
<line x1="908.8" y1="446.2" x2="897.8" y2="446.2"/>
<line x1="908.8" y1="396.9" x2="903.8" y2="396.9"/>
<line x1="908.8" y1="347.6" x2="897.8" y2="347.6"/>
<line x1="908.8" y1="298.3" x2="903.8" y2="298.3"/>
<line x1="908.8" y1="249" x2="897.8" y2="249"/>
<line x1="908.8" y1="198.9" x2="903.8" y2="198.9"/>
<line x1="908.8" y1="148.8" x2="897.8" y2="148.8"/>
<line x1="908.8" y1="99.4" x2="903.8" y2="99.4"/>
<line x1="908.8" y1="50" x2="897.8" y2="50"/>
<line x1="908.8" y1="0.6" x2="903.8" y2="0.6"/>
</g>
<rect x="1247.8" y="8.3" width="330" height="136.3" fill="#fff" stroke="#000" stroke-width="2.2"/>
<line x1="1248.3" y1="26.4" x2="1312.3" y2="26.4" stroke="#808080" stroke-width="3.4"/>
<g fill="#808080"><rect x="1274.1" y="20.2" width="12.4" height="12.4"/></g>
<text x="1316.9" y="33.7" font-family='"Liberation Sans", Arial, sans-serif' font-size="25" text-anchor="start" textLength="53" lengthAdjust="spacingAndGlyphs">20°C</text>
<line x1="1417.5" y1="26.4" x2="1481" y2="26.4" stroke="#B472FF" stroke-width="3.4"/>
<g fill="#B472FF"><circle cx="1449.5" cy="26.4" r="6.3"/></g>
<text x="1486" y="33.7" font-family='"Liberation Sans", Arial, sans-serif' font-size="25" text-anchor="start" textLength="67" lengthAdjust="spacingAndGlyphs">100°C</text>
<line x1="1248.3" y1="59.4" x2="1312.3" y2="59.4" stroke="#00FFFF" stroke-width="3.4"/>
<g fill="#00FFFF"><polygon points="1280.3,52.2 1288.6,66.6 1272,66.6"/></g>
<text x="1316.9" y="66.7" font-family='"Liberation Sans", Arial, sans-serif' font-size="25" text-anchor="start" textLength="69" lengthAdjust="spacingAndGlyphs">200°C</text>
<line x1="1417.5" y1="59.4" x2="1481" y2="59.4" stroke="#FF0000" stroke-width="3.4"/>
<g fill="#FF0000"><polygon points="1449.5,51 1457.3,59.4 1449.5,67.8 1441.7,59.4"/></g>
<text x="1486" y="66.7" font-family='"Liberation Sans", Arial, sans-serif' font-size="25" text-anchor="start" textLength="69" lengthAdjust="spacingAndGlyphs">300°C</text>
<line x1="1248.3" y1="93" x2="1312.3" y2="93" stroke="#008000" stroke-width="3.4"/>
<g fill="#008000"><polygon points="1280.3,100.2 1288.6,85.8 1272,85.8"/></g>
<text x="1316.9" y="100.3" font-family='"Liberation Sans", Arial, sans-serif' font-size="25" text-anchor="start" textLength="69" lengthAdjust="spacingAndGlyphs">400°C</text>
<line x1="1417.5" y1="93" x2="1481" y2="93" stroke="#FF8000" stroke-width="3.4"/>
<g fill="#FF8000"><polygon points="1449.5,85.4 1456.7,90.7 1454,99.1 1445,99.1 1442.3,90.7"/></g>
<text x="1486" y="100.3" font-family='"Liberation Sans", Arial, sans-serif' font-size="25" text-anchor="start" textLength="69" lengthAdjust="spacingAndGlyphs">600°C</text>
<line x1="1248.3" y1="125.2" x2="1312.3" y2="125.2" stroke="#0000FF" stroke-width="3.4"/>
<g fill="#0000FF"><polygon points="1280.3,117.2 1282.4,122.3 1287.9,122.7 1283.7,126.3 1285,131.7 1280.3,128.8 1275.6,131.7 1276.9,126.3 1272.7,122.7 1278.2,122.3"/></g>
<text x="1316.9" y="132.5" font-family='"Liberation Sans", Arial, sans-serif' font-size="25" text-anchor="start" textLength="69" lengthAdjust="spacingAndGlyphs">800°C</text>
<text x="60.3" y="561.7" font-family='"Liberation Serif", "Times New Roman", serif' font-size="31.5" text-anchor="middle">0</text>
<text x="60.3" y="383.8" font-family='"Liberation Serif", "Times New Roman", serif' font-size="31.5" text-anchor="middle">1</text>
<text x="60.3" y="207.8" font-family='"Liberation Serif", "Times New Roman", serif' font-size="31.5" text-anchor="middle">2</text>
<text x="60.3" y="29.9" font-family='"Liberation Serif", "Times New Roman", serif' font-size="31.5" text-anchor="middle">3</text>
<text x="86.5" y="595.2" font-family='"Liberation Serif", "Times New Roman", serif' font-size="31" text-anchor="middle" textLength="72" lengthAdjust="spacing">0.000</text>
<text x="217.5" y="595.2" font-family='"Liberation Serif", "Times New Roman", serif' font-size="31" text-anchor="middle" textLength="72" lengthAdjust="spacing">0.005</text>
<text x="350.5" y="595.2" font-family='"Liberation Serif", "Times New Roman", serif' font-size="31" text-anchor="middle" textLength="72" lengthAdjust="spacing">0.010</text>
<text x="483.5" y="595.2" font-family='"Liberation Serif", "Times New Roman", serif' font-size="31" text-anchor="middle" textLength="72" lengthAdjust="spacing">0.015</text>
<text x="616.5" y="595.2" font-family='"Liberation Serif", "Times New Roman", serif' font-size="31" text-anchor="middle" textLength="72" lengthAdjust="spacing">0.020</text>
<text x="747.5" y="595.2" font-family='"Liberation Serif", "Times New Roman", serif' font-size="31" text-anchor="middle" textLength="72" lengthAdjust="spacing">0.025</text>
<text x="878.8" y="553.8" font-family='"Liberation Serif", "Times New Roman", serif' font-size="31.5" text-anchor="middle">0</text>
<text x="878.8" y="455.1" font-family='"Liberation Serif", "Times New Roman", serif' font-size="31.5" text-anchor="middle">1</text>
<text x="878.8" y="356.5" font-family='"Liberation Serif", "Times New Roman", serif' font-size="31.5" text-anchor="middle">2</text>
<text x="878.8" y="257.9" font-family='"Liberation Serif", "Times New Roman", serif' font-size="31.5" text-anchor="middle">3</text>
<text x="878.8" y="157.7" font-family='"Liberation Serif", "Times New Roman", serif' font-size="31.5" text-anchor="middle">4</text>
<text x="878.8" y="58.9" font-family='"Liberation Serif", "Times New Roman", serif' font-size="31.5" text-anchor="middle">5</text>
<text x="908.3" y="587.2" font-family='"Liberation Serif", "Times New Roman", serif' font-size="31" text-anchor="middle" textLength="70.5" lengthAdjust="spacing">0.000</text>
<text x="1042.7" y="587.2" font-family='"Liberation Serif", "Times New Roman", serif' font-size="31" text-anchor="middle" textLength="70.5" lengthAdjust="spacing">0.005</text>
<text x="1177.2" y="587.2" font-family='"Liberation Serif", "Times New Roman", serif' font-size="31" text-anchor="middle" textLength="70.5" lengthAdjust="spacing">0.010</text>
<text x="1313.4" y="587.2" font-family='"Liberation Serif", "Times New Roman", serif' font-size="31" text-anchor="middle" textLength="70.5" lengthAdjust="spacing">0.015</text>
<text x="1448" y="587.2" font-family='"Liberation Serif", "Times New Roman", serif' font-size="31" text-anchor="middle" textLength="70.5" lengthAdjust="spacing">0.020</text>
<text x="1584.3" y="587.2" font-family='"Liberation Serif", "Times New Roman", serif' font-size="31" text-anchor="middle" textLength="70.5" lengthAdjust="spacing">0.025</text>
<text x="399.5" y="640" font-family='"Liberation Serif", "Times New Roman", serif' font-size="37.5" text-anchor="middle" textLength="92" lengthAdjust="spacing">Strain</text>
<text x="1236" y="630.4" font-family='"Liberation Serif", "Times New Roman", serif' font-size="37.5" text-anchor="middle" textLength="96" lengthAdjust="spacing">Strain</text>
<text x="380" y="693.8" font-family='"Liberation Serif", "Times New Roman", serif' font-size="37" text-anchor="middle" textLength="100" lengthAdjust="spacing">(a) M1</text>
<text x="1223" y="693.8" font-family='"Liberation Serif", "Times New Roman", serif' font-size="37" text-anchor="middle" textLength="104" lengthAdjust="spacing">(b) M2</text>
<text x="283" y="46.2" font-family='"Liberation Serif", "Times New Roman", serif' font-size="29.5" text-anchor="start" textLength="145" lengthAdjust="spacing">Oscillatory</text>
<text x="318.5" y="83.7" font-family='"Liberation Serif", "Times New Roman", serif' font-size="30" text-anchor="start" textLength="74" lengthAdjust="spacing">decay</text>
<text x="155" y="374.8" font-family='"Liberation Serif", "Times New Roman", serif' font-size="29" text-anchor="start" textLength="236" lengthAdjust="spacingAndGlyphs">Brittle compaction</text>
<text x="1113.5" y="36.7" font-family='"Liberation Serif", "Times New Roman", serif' font-size="29" text-anchor="start" textLength="87" lengthAdjust="spacingAndGlyphs">Brittle</text>
<text x="1107.5" y="74.8" font-family='"Liberation Serif", "Times New Roman", serif' font-size="29" text-anchor="start" textLength="102" lengthAdjust="spacingAndGlyphs">fracture</text>
<text transform="translate(29.6 299.8) rotate(-90)" x="0" y="0" font-family='"Liberation Serif", "Times New Roman", serif' font-size="38" text-anchor="middle" textLength="213" lengthAdjust="spacingAndGlyphs">Stress (MPa)</text>
<text transform="translate(856.4 281.5) rotate(-90)" x="0" y="0" font-family='"Liberation Serif", "Times New Roman", serif' font-size="38" text-anchor="middle" textLength="203" lengthAdjust="spacingAndGlyphs">Stress (MPa)</text>
</svg>
</body></html>
